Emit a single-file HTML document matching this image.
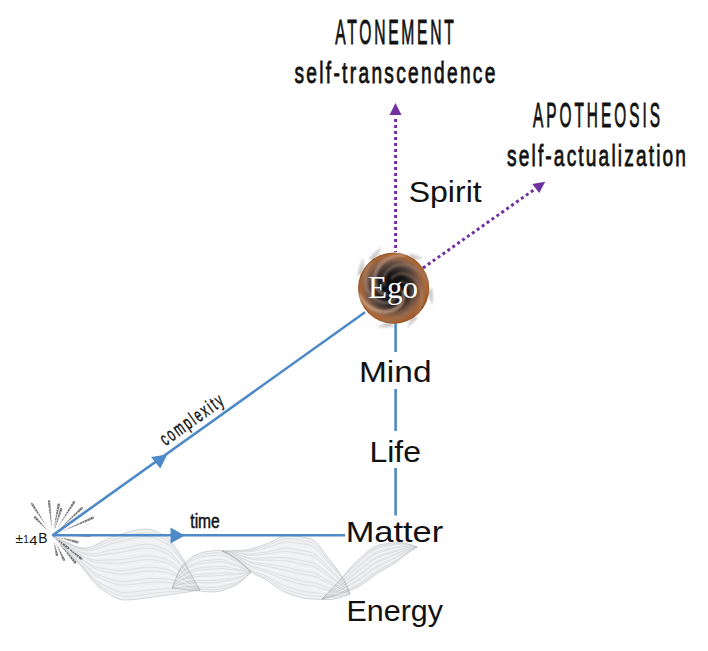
<!DOCTYPE html>
<html><head><meta charset="utf-8"><style>
html,body{margin:0;padding:0;background:#fff;width:708px;height:651px;overflow:hidden}
svg{display:block}
text{font-family:"Liberation Sans", sans-serif}
</style></head><body>
<svg width="708" height="651" viewBox="0 0 708 651">
<defs>
<radialGradient id="ego" cx="50%" cy="50%" r="50%">
<stop offset="0" stop-color="#08080a"/>
<stop offset="0.4" stop-color="#151415"/>
<stop offset="0.62" stop-color="#4a3c36"/>
<stop offset="0.8" stop-color="#86604a"/>
<stop offset="0.93" stop-color="#a86434"/>
<stop offset="1" stop-color="#94542a"/>
</radialGradient>
<radialGradient id="egorim" cx="35%" cy="35%" r="75%">
<stop offset="0.55" stop-color="#d07a38" stop-opacity="0"/>
<stop offset="0.8" stop-color="#d07a38" stop-opacity="0.25"/>
<stop offset="1" stop-color="#6a3818" stop-opacity="0.5"/>
</radialGradient>
<clipPath id="egoclip"><circle cx="393.6" cy="288.1" r="35.6"/></clipPath>
<filter id="blur1" x="-20%" y="-20%" width="140%" height="140%"><feGaussianBlur stdDeviation="1.2"/></filter>
<filter id="blur3" x="-50%" y="-50%" width="200%" height="200%"><feGaussianBlur stdDeviation="2.5"/></filter>
</defs>
<g id="ribbon">
<polygon points="52.0,535.0 53.5,535.9 55.0,536.7 56.5,537.6 58.0,538.4 59.5,539.2 61.0,539.9 62.5,540.6 64.0,541.3 65.5,542.0 67.0,542.6 68.5,543.2 70.0,543.8 71.5,544.4 73.0,545.1 74.5,545.7 76.0,546.3 77.5,546.8 79.0,547.3 80.5,547.6 82.0,547.9 83.5,548.0 85.0,548.0 86.5,547.8 88.0,547.6 89.5,547.2 91.0,546.8 92.5,546.3 94.0,545.7 95.5,545.0 97.0,544.3 98.5,543.6 100.0,542.8 101.5,542.1 103.0,541.3 104.5,540.5 106.0,539.7 107.5,539.0 109.0,538.3 110.5,537.6 112.0,537.0 113.5,536.5 115.0,536.0 116.5,535.6 118.0,535.1 119.5,534.7 121.0,534.2 122.5,533.7 124.0,533.3 125.5,532.8 127.0,532.4 128.5,531.9 130.0,531.5 131.5,531.1 133.0,530.8 134.5,530.4 136.0,530.1 137.5,529.8 139.0,529.6 140.5,529.4 142.0,529.2 143.5,529.1 145.0,529.0 146.5,529.0 148.0,529.1 149.5,529.3 151.0,529.6 152.5,530.1 154.0,530.6 155.5,531.1 157.0,531.8 158.5,532.5 160.0,533.2 161.5,534.0 163.0,534.9 164.5,535.7 166.0,536.6 167.5,537.8 169.0,539.3 170.5,540.9 172.0,542.7 173.5,544.7 175.0,546.7 176.5,548.9 178.0,551.1 179.5,553.3 181.0,555.5 182.5,558.0 184.0,560.7 185.5,563.5 187.0,566.5 188.5,569.4 190.0,572.3 191.5,575.1 193.0,577.8 194.5,580.4 196.0,583.1 197.5,585.7 199.0,588.3 200.0,590.0 200.0,590.0 199.0,590.2 197.5,590.4 196.0,590.7 194.5,590.9 193.0,591.2 191.5,591.4 190.0,591.6 188.5,591.9 187.0,592.1 185.5,592.4 184.0,592.6 182.5,592.8 181.0,593.0 179.5,593.3 178.0,593.5 176.5,593.7 175.0,593.9 173.5,594.2 172.0,594.4 170.5,594.6 169.0,594.8 167.5,595.0 166.0,595.2 164.5,595.4 163.0,595.6 161.5,595.8 160.0,596.0 158.5,596.2 157.0,596.4 155.5,596.6 154.0,596.8 152.5,597.1 151.0,597.3 149.5,597.5 148.0,597.8 146.5,598.0 145.0,598.2 143.5,598.4 142.0,598.6 140.5,598.8 139.0,599.0 137.5,599.2 136.0,599.4 134.5,599.5 133.0,599.7 131.5,599.8 130.0,599.9 128.5,599.9 127.0,600.0 125.5,600.0 124.0,600.0 122.5,599.8 121.0,599.5 119.5,599.2 118.0,598.7 116.5,598.1 115.0,597.4 113.5,596.7 112.0,595.9 110.5,595.0 109.0,594.1 107.5,593.1 106.0,592.1 104.5,591.1 103.0,590.1 101.5,589.0 100.0,588.0 98.5,586.9 97.0,585.5 95.5,584.0 94.0,582.4 92.5,580.7 91.0,578.8 89.5,576.9 88.0,575.0 86.5,573.0 85.0,571.1 83.5,569.2 82.0,567.3 80.5,565.6 79.0,563.9 77.5,562.2 76.0,560.6 74.5,558.9 73.0,557.3 71.5,555.6 70.0,554.0 68.5,552.4 67.0,550.8 65.5,549.2 64.0,547.6 62.5,546.0 61.0,544.4 59.5,542.8 58.0,541.2 56.5,539.7 55.0,538.1 53.5,536.5 52.0,535.0" fill="#e4e6ea" fill-opacity="0.6"/>
<polygon points="172.0,588.0 173.5,584.1 175.0,580.3 176.5,576.6 178.0,573.3 179.5,570.2 181.0,567.6 182.5,565.6 184.0,564.0 185.5,562.5 187.0,561.1 188.5,559.8 190.0,558.6 191.5,557.4 193.0,556.4 194.5,555.5 196.0,554.7 197.5,554.0 199.0,553.4 200.5,552.9 202.0,552.5 203.5,552.2 205.0,551.9 206.5,551.6 208.0,551.4 209.5,551.2 211.0,550.9 212.5,550.8 214.0,550.6 215.5,550.5 217.0,550.4 218.5,550.4 220.0,550.4 221.5,550.7 223.0,551.1 224.5,551.7 226.0,552.4 227.5,553.3 229.0,554.2 230.5,555.1 232.0,556.1 233.5,557.1 235.0,558.0 236.5,559.0 238.0,560.0 239.5,561.2 241.0,562.4 242.5,563.6 244.0,565.0 245.5,566.4 247.0,567.9 248.5,569.4 250.0,570.9 251.0,572.0 251.0,572.0 250.0,573.1 248.5,574.6 247.0,576.1 245.5,577.6 244.0,579.0 242.5,580.3 241.0,581.6 239.5,582.7 238.0,583.8 236.5,584.7 235.0,585.5 233.5,586.2 232.0,586.9 230.5,587.5 229.0,588.1 227.5,588.7 226.0,589.3 224.5,589.8 223.0,590.3 221.5,590.7 220.0,591.1 218.5,591.4 217.0,591.7 215.5,591.9 214.0,592.0 212.5,592.0 211.0,592.0 209.5,591.9 208.0,591.8 206.5,591.7 205.0,591.6 203.5,591.5 202.0,591.3 200.5,591.2 199.0,591.0 197.5,590.8 196.0,590.7 194.5,590.5 193.0,590.3 191.5,590.2 190.0,590.0 188.5,589.9 187.0,589.7 185.5,589.5 184.0,589.4 182.5,589.2 181.0,589.1 179.5,588.9 178.0,588.7 176.5,588.5 175.0,588.4 173.5,588.2 172.0,588.0" fill="#e4e6ea" fill-opacity="0.6"/>
<polygon points="222.0,551.0 223.5,551.0 225.0,551.0 226.5,551.0 228.0,550.9 229.5,550.9 231.0,550.8 232.5,550.8 234.0,550.7 235.5,550.6 237.0,550.5 238.5,550.4 240.0,550.4 241.5,550.3 243.0,550.1 244.5,550.0 246.0,549.9 247.5,549.7 249.0,549.4 250.5,549.1 252.0,548.7 253.5,548.3 255.0,547.8 256.5,547.3 258.0,546.8 259.5,546.3 261.0,545.8 262.5,545.2 264.0,544.7 265.5,544.2 267.0,543.6 268.5,543.0 270.0,542.3 271.5,541.6 273.0,540.8 274.5,540.0 276.0,539.2 277.5,538.4 279.0,537.7 280.5,537.1 282.0,536.5 283.5,536.1 285.0,535.8 286.5,535.6 288.0,535.6 289.5,535.6 291.0,535.7 292.5,535.8 294.0,535.9 295.5,536.0 297.0,536.2 298.5,536.4 300.0,536.6 301.5,536.8 303.0,537.1 304.5,537.3 306.0,537.6 307.5,537.9 309.0,538.3 310.5,538.6 312.0,539.2 313.5,540.2 315.0,541.3 316.5,542.7 318.0,544.3 319.5,546.1 321.0,548.0 322.5,549.9 324.0,552.0 325.5,554.0 327.0,556.1 328.5,558.1 330.0,560.0 331.5,561.9 333.0,563.8 334.5,565.7 336.0,567.7 337.5,569.8 339.0,572.0 340.5,574.2 342.0,576.7 343.5,579.2 345.0,582.0 346.5,585.2 348.0,588.8 349.5,592.7 350.0,594.0 350.0,594.0 349.5,594.2 348.0,594.8 346.5,595.5 345.0,596.1 343.5,596.6 342.0,597.2 340.5,597.7 339.0,598.1 337.5,598.5 336.0,598.8 334.5,599.1 333.0,599.3 331.5,599.5 330.0,599.5 328.5,599.5 327.0,599.5 325.5,599.5 324.0,599.4 322.5,599.4 321.0,599.4 319.5,599.3 318.0,599.3 316.5,599.3 315.0,599.2 313.5,599.1 312.0,599.1 310.5,599.0 309.0,598.9 307.5,598.8 306.0,598.6 304.5,598.4 303.0,598.1 301.5,597.7 300.0,597.3 298.5,596.9 297.0,596.5 295.5,596.0 294.0,595.5 292.5,595.0 291.0,594.5 289.5,593.9 288.0,593.4 286.5,592.8 285.0,592.2 283.5,591.4 282.0,590.6 280.5,589.7 279.0,588.7 277.5,587.7 276.0,586.7 274.5,585.6 273.0,584.6 271.5,583.5 270.0,582.5 268.5,581.5 267.0,580.6 265.5,579.7 264.0,578.9 262.5,578.1 261.0,577.4 259.5,576.7 258.0,576.0 256.5,575.2 255.0,574.4 253.5,573.6 252.0,572.7 250.5,571.6 249.0,570.4 247.5,569.1 246.0,567.6 244.5,566.1 243.0,564.6 241.5,563.2 240.0,562.0 238.5,560.9 237.0,559.8 235.5,558.8 234.0,557.7 232.5,556.7 231.0,555.8 229.5,554.9 228.0,554.0 226.5,553.2 225.0,552.4 223.5,551.7 222.0,551.0" fill="#e4e6ea" fill-opacity="0.6"/>
<polygon points="322.0,599.0 323.5,597.4 325.0,595.9 326.5,594.3 328.0,592.7 329.5,591.1 331.0,589.5 332.5,587.9 334.0,586.3 335.5,584.7 337.0,583.1 338.5,581.5 340.0,579.8 341.5,578.1 343.0,576.3 344.5,574.6 346.0,572.8 347.5,571.1 349.0,569.3 350.5,567.6 352.0,565.9 353.5,564.3 355.0,562.8 356.5,561.4 358.0,560.0 359.5,558.7 361.0,557.3 362.5,556.0 364.0,554.6 365.5,553.3 367.0,552.0 368.5,550.8 370.0,549.6 371.5,548.5 373.0,547.6 374.5,546.7 376.0,546.0 377.5,545.4 379.0,545.0 380.5,544.7 382.0,544.4 383.5,544.1 385.0,543.8 386.5,543.6 388.0,543.4 389.5,543.2 391.0,543.0 392.5,542.8 394.0,542.7 395.5,542.6 397.0,542.5 398.5,542.5 400.0,542.5 401.5,542.6 403.0,542.8 404.5,543.0 406.0,543.3 407.5,543.7 409.0,544.1 410.5,544.5 412.0,545.0 413.5,545.6 415.0,546.2 416.5,546.8 417.0,547.0 417.0,547.0 416.5,547.3 415.0,548.3 413.5,549.2 412.0,550.2 410.5,551.3 409.0,552.3 407.5,553.4 406.0,554.5 404.5,555.6 403.0,556.8 401.5,558.1 400.0,559.3 398.5,560.4 397.0,561.6 395.5,562.7 394.0,563.7 392.5,564.6 391.0,565.6 389.5,566.5 388.0,567.4 386.5,568.2 385.0,569.1 383.5,569.9 382.0,570.8 380.5,571.6 379.0,572.5 377.5,573.4 376.0,574.4 374.5,575.3 373.0,576.4 371.5,577.5 370.0,578.6 368.5,579.8 367.0,580.9 365.5,582.1 364.0,583.2 362.5,584.3 361.0,585.3 359.5,586.2 358.0,587.0 356.5,587.7 355.0,588.4 353.5,589.1 352.0,589.7 350.5,590.3 349.0,590.9 347.5,591.5 346.0,592.0 344.5,592.5 343.0,593.0 341.5,593.5 340.0,594.0 338.5,594.5 337.0,595.0 335.5,595.4 334.0,595.9 332.5,596.3 331.0,596.7 329.5,597.1 328.0,597.5 326.5,597.9 325.0,598.3 323.5,598.7 322.0,599.0" fill="#e4e6ea" fill-opacity="0.6"/>
<polyline points="52.0,535.0 53.5,535.9 55.0,536.8 56.5,537.7 58.0,538.5 59.5,539.4 61.0,540.2 62.5,540.9 64.0,541.7 65.5,542.4 67.0,543.1 68.5,543.7 70.0,544.4 71.5,545.1 73.0,545.7 74.5,546.4 76.0,547.1 77.5,547.7 79.0,548.2 80.5,548.6 82.0,548.9 83.5,549.2 85.0,549.3 86.5,549.2 88.0,549.1 89.5,548.9 91.0,548.6 92.5,548.2 94.0,547.7 95.5,547.2 97.0,546.6 98.5,546.0 100.0,545.4 101.5,544.7 103.0,544.0 104.5,543.3 106.0,542.7 107.5,542.0 109.0,541.4 110.5,540.8 112.0,540.3 113.5,539.8 115.0,539.4 116.5,539.0 118.0,538.6 119.5,538.2 121.0,537.8 122.5,537.4 124.0,537.0 125.5,536.6 127.0,536.1 128.5,535.7 130.0,535.3 131.5,534.9 133.0,534.6 134.5,534.2 136.0,533.9 137.5,533.7 139.0,533.4 140.5,533.2 142.0,533.0 143.5,532.9 145.0,532.9 146.5,532.8 148.0,532.9 149.5,533.1 151.0,533.4 152.5,533.8 154.0,534.2 155.5,534.8 157.0,535.4 158.5,536.0 160.0,536.7 161.5,537.5 163.0,538.2 164.5,539.0 166.0,539.9 167.5,541.0 169.0,542.3 170.5,543.9 172.0,545.6 173.5,547.4 175.0,549.3 176.5,551.4 178.0,553.4 179.5,555.5 181.0,557.6 182.5,560.0 184.0,562.5 185.5,565.1 187.0,567.9 188.5,570.6 190.0,573.4 191.5,576.0 193.0,578.5 194.5,581.0 196.0,583.5 197.5,585.9 199.0,588.4 200.0,590.0" stroke="#8a8f96" stroke-opacity="0.25" stroke-width="0.7" fill="none"/>
<polyline points="52.0,535.0 53.5,536.0 55.0,536.9 56.5,537.8 58.0,538.7 59.5,539.6 61.0,540.4 62.5,541.2 64.0,542.0 65.5,542.8 67.0,543.5 68.5,544.2 70.0,544.9 71.5,545.7 73.0,546.4 74.5,547.2 76.0,547.9 77.5,548.5 79.0,549.1 80.5,549.6 82.0,550.0 83.5,550.3 85.0,550.5 86.5,550.6 88.0,550.6 89.5,550.5 91.0,550.3 92.5,550.1 94.0,549.8 95.5,549.4 97.0,548.9 98.5,548.4 100.0,547.9 101.5,547.3 103.0,546.7 104.5,546.1 106.0,545.6 107.5,545.0 109.0,544.5 110.5,544.0 112.0,543.6 113.5,543.2 115.0,542.8 116.5,542.5 118.0,542.2 119.5,541.8 121.0,541.5 122.5,541.1 124.0,540.7 125.5,540.3 127.0,539.9 128.5,539.5 130.0,539.1 131.5,538.8 133.0,538.4 134.5,538.1 136.0,537.8 137.5,537.5 139.0,537.3 140.5,537.1 142.0,536.9 143.5,536.8 145.0,536.7 146.5,536.7 148.0,536.7 149.5,536.9 151.0,537.2 152.5,537.5 154.0,537.9 155.5,538.4 157.0,539.0 158.5,539.6 160.0,540.2 161.5,540.9 163.0,541.6 164.5,542.3 166.0,543.1 167.5,544.2 169.0,545.4 170.5,546.9 172.0,548.4 173.5,550.2 175.0,552.0 176.5,553.9 178.0,555.8 179.5,557.7 181.0,559.7 182.5,561.9 184.0,564.3 185.5,566.7 187.0,569.3 188.5,571.9 190.0,574.4 191.5,576.9 193.0,579.3 194.5,581.6 196.0,583.9 197.5,586.2 199.0,588.5 200.0,590.0" stroke="#8a8f96" stroke-opacity="0.25" stroke-width="0.7" fill="none"/>
<polyline points="52.0,535.0 53.5,536.0 55.0,537.0 56.5,537.9 58.0,538.9 59.5,539.8 61.0,540.7 62.5,541.5 64.0,542.4 65.5,543.2 67.0,544.0 68.5,544.7 70.0,545.5 71.5,546.3 73.0,547.1 74.5,547.9 76.0,548.7 77.5,549.4 79.0,550.0 80.5,550.6 82.0,551.1 83.5,551.5 85.0,551.8 86.5,552.0 88.0,552.1 89.5,552.2 91.0,552.1 92.5,552.0 94.0,551.8 95.5,551.5 97.0,551.2 98.5,550.8 100.0,550.4 101.5,549.9 103.0,549.4 104.5,548.9 106.0,548.5 107.5,548.0 109.0,547.6 110.5,547.2 112.0,546.8 113.5,546.5 115.0,546.2 116.5,546.0 118.0,545.7 119.5,545.4 121.0,545.1 122.5,544.8 124.0,544.4 125.5,544.0 127.0,543.6 128.5,543.3 130.0,542.9 131.5,542.6 133.0,542.2 134.5,541.9 136.0,541.6 137.5,541.4 139.0,541.1 140.5,540.9 142.0,540.8 143.5,540.6 145.0,540.5 146.5,540.5 148.0,540.5 149.5,540.7 151.0,540.9 152.5,541.2 154.0,541.6 155.5,542.0 157.0,542.5 158.5,543.1 160.0,543.7 161.5,544.3 163.0,545.0 164.5,545.7 166.0,546.4 167.5,547.4 169.0,548.5 170.5,549.8 172.0,551.3 173.5,552.9 175.0,554.6 176.5,556.3 178.0,558.1 179.5,559.9 181.0,561.8 182.5,563.8 184.0,566.0 185.5,568.3 187.0,570.7 188.5,573.1 190.0,575.5 191.5,577.8 193.0,580.0 194.5,582.2 196.0,584.3 197.5,586.5 199.0,588.6 200.0,590.0" stroke="#ffffff" stroke-opacity="0.4" stroke-width="1.0" fill="none"/>
<polyline points="52.0,535.0 53.5,536.0 55.0,537.0 56.5,538.0 58.0,539.0 59.5,540.0 61.0,540.9 62.5,541.8 64.0,542.7 65.5,543.6 67.0,544.4 68.5,545.2 70.0,546.1 71.5,546.9 73.0,547.8 74.5,548.6 76.0,549.4 77.5,550.2 79.0,551.0 80.5,551.6 82.0,552.2 83.5,552.7 85.0,553.1 86.5,553.4 88.0,553.7 89.5,553.8 91.0,553.9 92.5,553.9 94.0,553.8 95.5,553.7 97.0,553.5 98.5,553.2 100.0,552.9 101.5,552.5 103.0,552.1 104.5,551.8 106.0,551.4 107.5,551.0 109.0,550.7 110.5,550.4 112.0,550.1 113.5,549.8 115.0,549.7 116.5,549.5 118.0,549.2 119.5,549.0 121.0,548.7 122.5,548.4 124.0,548.1 125.5,547.8 127.0,547.4 128.5,547.1 130.0,546.7 131.5,546.4 133.0,546.1 134.5,545.8 136.0,545.5 137.5,545.2 139.0,545.0 140.5,544.8 142.0,544.6 143.5,544.5 145.0,544.4 146.5,544.3 148.0,544.4 149.5,544.5 151.0,544.7 152.5,544.9 154.0,545.3 155.5,545.7 157.0,546.1 158.5,546.6 160.0,547.2 161.5,547.8 163.0,548.4 164.5,549.0 166.0,549.7 167.5,550.5 169.0,551.6 170.5,552.8 172.0,554.2 173.5,555.7 175.0,557.2 176.5,558.8 178.0,560.5 179.5,562.2 181.0,563.9 182.5,565.8 184.0,567.8 185.5,569.9 187.0,572.2 188.5,574.4 190.0,576.6 191.5,578.7 193.0,580.8 194.5,582.8 196.0,584.8 197.5,586.7 199.0,588.7 200.0,590.0" stroke="#8a8f96" stroke-opacity="0.25" stroke-width="0.7" fill="none"/>
<polyline points="52.0,535.0 53.5,536.1 55.0,537.1 56.5,538.2 58.0,539.2 59.5,540.2 61.0,541.2 62.5,542.1 64.0,543.1 65.5,544.0 67.0,544.9 68.5,545.7 70.0,546.6 71.5,547.5 73.0,548.5 74.5,549.4 76.0,550.2 77.5,551.1 79.0,551.9 80.5,552.6 82.0,553.3 83.5,553.9 85.0,554.4 86.5,554.8 88.0,555.2 89.5,555.5 91.0,555.7 92.5,555.8 94.0,555.9 95.5,555.9 97.0,555.8 98.5,555.6 100.0,555.4 101.5,555.1 103.0,554.8 104.5,554.6 106.0,554.3 107.5,554.0 109.0,553.8 110.5,553.6 112.0,553.4 113.5,553.2 115.0,553.1 116.5,552.9 118.0,552.8 119.5,552.6 121.0,552.4 122.5,552.1 124.0,551.8 125.5,551.5 127.0,551.2 128.5,550.8 130.0,550.5 131.5,550.2 133.0,549.9 134.5,549.6 136.0,549.3 137.5,549.1 139.0,548.9 140.5,548.7 142.0,548.5 143.5,548.3 145.0,548.2 146.5,548.2 148.0,548.2 149.5,548.3 151.0,548.4 152.5,548.7 154.0,549.0 155.5,549.3 157.0,549.7 158.5,550.2 160.0,550.7 161.5,551.2 163.0,551.7 164.5,552.3 166.0,552.9 167.5,553.7 169.0,554.7 170.5,555.8 172.0,557.1 173.5,558.4 175.0,559.8 176.5,561.3 178.0,562.8 179.5,564.4 181.0,565.9 182.5,567.7 184.0,569.6 185.5,571.5 187.0,573.6 188.5,575.6 190.0,577.7 191.5,579.6 193.0,581.5 194.5,583.3 196.0,585.2 197.5,587.0 199.0,588.8 200.0,590.0" stroke="#8a8f96" stroke-opacity="0.25" stroke-width="0.7" fill="none"/>
<polyline points="52.0,535.0 53.5,536.1 55.0,537.2 56.5,538.3 58.0,539.3 59.5,540.4 61.0,541.4 62.5,542.4 64.0,543.4 65.5,544.4 67.0,545.3 68.5,546.3 70.0,547.2 71.5,548.2 73.0,549.1 74.5,550.1 76.0,551.0 77.5,551.9 79.0,552.8 80.5,553.6 82.0,554.4 83.5,555.0 85.0,555.7 86.5,556.2 88.0,556.7 89.5,557.1 91.0,557.5 92.5,557.7 94.0,557.9 95.5,558.0 97.0,558.1 98.5,558.0 100.0,557.9 101.5,557.7 103.0,557.6 104.5,557.4 106.0,557.2 107.5,557.0 109.0,556.9 110.5,556.7 112.0,556.6 113.5,556.5 115.0,556.5 116.5,556.4 118.0,556.3 119.5,556.2 121.0,556.0 122.5,555.8 124.0,555.5 125.5,555.2 127.0,554.9 128.5,554.6 130.0,554.3 131.5,554.0 133.0,553.7 134.5,553.4 136.0,553.2 137.5,552.9 139.0,552.7 140.5,552.5 142.0,552.3 143.5,552.2 145.0,552.1 146.5,552.0 148.0,552.0 149.5,552.1 151.0,552.2 152.5,552.4 154.0,552.7 155.5,553.0 157.0,553.3 158.5,553.7 160.0,554.2 161.5,554.6 163.0,555.1 164.5,555.6 166.0,556.2 167.5,556.9 169.0,557.8 170.5,558.8 172.0,559.9 173.5,561.2 175.0,562.5 176.5,563.8 178.0,565.2 179.5,566.6 181.0,568.0 182.5,569.6 184.0,571.3 185.5,573.1 187.0,575.0 188.5,576.9 190.0,578.7 191.5,580.5 193.0,582.2 194.5,583.9 196.0,585.6 197.5,587.3 199.0,588.9 200.0,590.0" stroke="#ffffff" stroke-opacity="0.4" stroke-width="1.0" fill="none"/>
<polyline points="52.0,535.0 53.5,536.1 55.0,537.3 56.5,538.4 58.0,539.5 59.5,540.6 61.0,541.7 62.5,542.7 64.0,543.8 65.5,544.8 67.0,545.8 68.5,546.8 70.0,547.8 71.5,548.8 73.0,549.8 74.5,550.8 76.0,551.8 77.5,552.8 79.0,553.7 80.5,554.6 82.0,555.4 83.5,556.2 85.0,557.0 86.5,557.6 88.0,558.2 89.5,558.8 91.0,559.2 92.5,559.6 94.0,560.0 95.5,560.2 97.0,560.4 98.5,560.4 100.0,560.4 101.5,560.3 103.0,560.3 104.5,560.2 106.0,560.1 107.5,560.0 109.0,560.0 110.5,559.9 112.0,559.9 113.5,559.9 115.0,559.9 116.5,559.9 118.0,559.8 119.5,559.7 121.0,559.6 122.5,559.4 124.0,559.2 125.5,558.9 127.0,558.7 128.5,558.4 130.0,558.1 131.5,557.8 133.0,557.5 134.5,557.3 136.0,557.0 137.5,556.8 139.0,556.6 140.5,556.4 142.0,556.2 143.5,556.0 145.0,555.9 146.5,555.8 148.0,555.8 149.5,555.8 151.0,556.0 152.5,556.1 154.0,556.3 155.5,556.6 157.0,556.9 158.5,557.3 160.0,557.6 161.5,558.1 163.0,558.5 164.5,558.9 166.0,559.4 167.5,560.1 169.0,560.9 170.5,561.8 172.0,562.8 173.5,563.9 175.0,565.1 176.5,566.3 178.0,567.6 179.5,568.8 181.0,570.1 182.5,571.6 184.0,573.1 185.5,574.7 187.0,576.4 188.5,578.1 190.0,579.8 191.5,581.4 193.0,583.0 194.5,584.5 196.0,586.0 197.5,587.5 199.0,589.0 200.0,590.0" stroke="#8a8f96" stroke-opacity="0.25" stroke-width="0.7" fill="none"/>
<polyline points="52.0,535.0 53.5,536.2 55.0,537.3 56.5,538.5 58.0,539.6 59.5,540.8 61.0,541.9 62.5,543.0 64.0,544.1 65.5,545.2 67.0,546.2 68.5,547.3 70.0,548.3 71.5,549.4 73.0,550.5 74.5,551.6 76.0,552.6 77.5,553.7 79.0,554.6 80.5,555.6 82.0,556.5 83.5,557.4 85.0,558.2 86.5,559.0 88.0,559.8 89.5,560.4 91.0,561.0 92.5,561.6 94.0,562.0 95.5,562.4 97.0,562.7 98.5,562.8 100.0,562.9 101.5,562.9 103.0,563.0 104.5,563.0 106.0,563.0 107.5,563.1 109.0,563.1 110.5,563.1 112.0,563.2 113.5,563.2 115.0,563.3 116.5,563.4 118.0,563.4 119.5,563.3 121.0,563.2 122.5,563.1 124.0,562.9 125.5,562.7 127.0,562.4 128.5,562.2 130.0,561.9 131.5,561.6 133.0,561.4 134.5,561.1 136.0,560.9 137.5,560.7 139.0,560.4 140.5,560.2 142.0,560.1 143.5,559.9 145.0,559.8 146.5,559.7 148.0,559.6 149.5,559.6 151.0,559.7 152.5,559.8 154.0,560.0 155.5,560.2 157.0,560.5 158.5,560.8 160.0,561.1 161.5,561.5 163.0,561.9 164.5,562.2 166.0,562.7 167.5,563.2 169.0,563.9 170.5,564.8 172.0,565.7 173.5,566.7 175.0,567.7 176.5,568.8 178.0,569.9 179.5,571.0 181.0,572.2 182.5,573.5 184.0,574.9 185.5,576.4 187.0,577.9 188.5,579.4 190.0,580.9 191.5,582.3 193.0,583.7 194.5,585.1 196.0,586.4 197.5,587.8 199.0,589.1 200.0,590.0" stroke="#8a8f96" stroke-opacity="0.25" stroke-width="0.7" fill="none"/>
<polyline points="52.0,535.0 53.5,536.2 55.0,537.4 56.5,538.6 58.0,539.8 59.5,541.0 61.0,542.1 62.5,543.3 64.0,544.4 65.5,545.6 67.0,546.7 68.5,547.8 70.0,548.9 71.5,550.0 73.0,551.2 74.5,552.3 76.0,553.4 77.5,554.5 79.0,555.6 80.5,556.6 82.0,557.6 83.5,558.6 85.0,559.5 86.5,560.4 88.0,561.3 89.5,562.1 91.0,562.8 92.5,563.5 94.0,564.0 95.5,564.5 97.0,564.9 98.5,565.2 100.0,565.4 101.5,565.6 103.0,565.7 104.5,565.8 106.0,565.9 107.5,566.1 109.0,566.2 110.5,566.3 112.0,566.4 113.5,566.6 115.0,566.7 116.5,566.8 118.0,566.9 119.5,566.9 121.0,566.9 122.5,566.8 124.0,566.6 125.5,566.4 127.0,566.2 128.5,565.9 130.0,565.7 131.5,565.4 133.0,565.2 134.5,565.0 136.0,564.7 137.5,564.5 139.0,564.3 140.5,564.1 142.0,563.9 143.5,563.8 145.0,563.6 146.5,563.5 148.0,563.4 149.5,563.4 151.0,563.5 152.5,563.6 154.0,563.7 155.5,563.9 157.0,564.1 158.5,564.3 160.0,564.6 161.5,564.9 163.0,565.2 164.5,565.6 166.0,565.9 167.5,566.4 169.0,567.0 170.5,567.7 172.0,568.5 173.5,569.4 175.0,570.3 176.5,571.3 178.0,572.3 179.5,573.3 181.0,574.3 182.5,575.4 184.0,576.7 185.5,578.0 187.0,579.3 188.5,580.6 190.0,582.0 191.5,583.3 193.0,584.5 194.5,585.7 196.0,586.9 197.5,588.1 199.0,589.2 200.0,590.0" stroke="#ffffff" stroke-opacity="0.4" stroke-width="1.0" fill="none"/>
<polyline points="52.0,535.0 53.5,536.2 55.0,537.5 56.5,538.7 58.0,540.0 59.5,541.2 61.0,542.4 62.5,543.6 64.0,544.8 65.5,546.0 67.0,547.1 68.5,548.3 70.0,549.5 71.5,550.7 73.0,551.9 74.5,553.0 76.0,554.2 77.5,555.4 79.0,556.5 80.5,557.6 82.0,558.7 83.5,559.8 85.0,560.8 86.5,561.8 88.0,562.8 89.5,563.7 91.0,564.6 92.5,565.4 94.0,566.1 95.5,566.7 97.0,567.2 98.5,567.6 100.0,567.9 101.5,568.2 103.0,568.4 104.5,568.6 106.0,568.8 107.5,569.1 109.0,569.3 110.5,569.5 112.0,569.7 113.5,569.9 115.0,570.1 116.5,570.3 118.0,570.4 119.5,570.5 121.0,570.5 122.5,570.5 124.0,570.3 125.5,570.1 127.0,569.9 128.5,569.7 130.0,569.5 131.5,569.3 133.0,569.0 134.5,568.8 136.0,568.6 137.5,568.4 139.0,568.2 140.5,568.0 142.0,567.8 143.5,567.6 145.0,567.5 146.5,567.3 148.0,567.2 149.5,567.2 151.0,567.2 152.5,567.3 154.0,567.4 155.5,567.5 157.0,567.7 158.5,567.9 160.0,568.1 161.5,568.4 163.0,568.6 164.5,568.9 166.0,569.2 167.5,569.6 169.0,570.1 170.5,570.7 172.0,571.4 173.5,572.2 175.0,573.0 176.5,573.8 178.0,574.6 179.5,575.5 181.0,576.4 182.5,577.4 184.0,578.4 185.5,579.6 187.0,580.7 188.5,581.9 190.0,583.0 191.5,584.2 193.0,585.2 194.5,586.3 196.0,587.3 197.5,588.3 199.0,589.3 200.0,590.0" stroke="#8a8f96" stroke-opacity="0.25" stroke-width="0.7" fill="none"/>
<polyline points="52.0,535.0 53.5,536.3 55.0,537.6 56.5,538.8 58.0,540.1 59.5,541.4 61.0,542.6 62.5,543.9 64.0,545.1 65.5,546.4 67.0,547.6 68.5,548.8 70.0,550.0 71.5,551.3 73.0,552.5 74.5,553.8 76.0,555.0 77.5,556.2 79.0,557.4 80.5,558.6 82.0,559.8 83.5,560.9 85.0,562.1 86.5,563.2 88.0,564.3 89.5,565.4 91.0,566.4 92.5,567.3 94.0,568.1 95.5,568.9 97.0,569.5 98.5,570.0 100.0,570.4 101.5,570.8 103.0,571.1 104.5,571.4 106.0,571.8 107.5,572.1 109.0,572.4 110.5,572.7 112.0,573.0 113.5,573.3 115.0,573.5 116.5,573.8 118.0,574.0 119.5,574.1 121.0,574.1 122.5,574.1 124.0,574.0 125.5,573.9 127.0,573.7 128.5,573.5 130.0,573.3 131.5,573.1 133.0,572.9 134.5,572.6 136.0,572.4 137.5,572.2 139.0,572.0 140.5,571.8 142.0,571.6 143.5,571.5 145.0,571.3 146.5,571.2 148.0,571.1 149.5,571.0 151.0,571.0 152.5,571.0 154.0,571.1 155.5,571.2 157.0,571.3 158.5,571.4 160.0,571.6 161.5,571.8 163.0,572.0 164.5,572.2 166.0,572.4 167.5,572.8 169.0,573.2 170.5,573.7 172.0,574.3 173.5,574.9 175.0,575.6 176.5,576.3 178.0,577.0 179.5,577.7 181.0,578.5 182.5,579.3 184.0,580.2 185.5,581.2 187.0,582.1 188.5,583.1 190.0,584.1 191.5,585.1 193.0,586.0 194.5,586.8 196.0,587.7 197.5,588.6 199.0,589.4 200.0,590.0" stroke="#8a8f96" stroke-opacity="0.25" stroke-width="0.7" fill="none"/>
<polyline points="52.0,535.0 53.5,536.3 55.0,537.6 56.5,539.0 58.0,540.3 59.5,541.6 61.0,542.9 62.5,544.2 64.0,545.5 65.5,546.8 67.0,548.1 68.5,549.3 70.0,550.6 71.5,551.9 73.0,553.2 74.5,554.5 76.0,555.8 77.5,557.1 79.0,558.3 80.5,559.6 82.0,560.8 83.5,562.1 85.0,563.4 86.5,564.6 88.0,565.8 89.5,567.0 91.0,568.1 92.5,569.2 94.0,570.2 95.5,571.0 97.0,571.8 98.5,572.4 100.0,572.9 101.5,573.4 103.0,573.8 104.5,574.2 106.0,574.7 107.5,575.1 109.0,575.5 110.5,575.9 112.0,576.3 113.5,576.6 115.0,577.0 116.5,577.3 118.0,577.5 119.5,577.7 121.0,577.8 122.5,577.8 124.0,577.7 125.5,577.6 127.0,577.4 128.5,577.3 130.0,577.1 131.5,576.9 133.0,576.7 134.5,576.5 136.0,576.3 137.5,576.1 139.0,575.9 140.5,575.7 142.0,575.5 143.5,575.3 145.0,575.1 146.5,575.0 148.0,574.9 149.5,574.8 151.0,574.7 152.5,574.7 154.0,574.7 155.5,574.8 157.0,574.9 158.5,575.0 160.0,575.1 161.5,575.2 163.0,575.4 164.5,575.5 166.0,575.7 167.5,575.9 169.0,576.3 170.5,576.7 172.0,577.1 173.5,577.7 175.0,578.2 176.5,578.8 178.0,579.4 179.5,579.9 181.0,580.5 182.5,581.2 184.0,582.0 185.5,582.8 187.0,583.6 188.5,584.4 190.0,585.2 191.5,586.0 193.0,586.7 194.5,587.4 196.0,588.1 197.5,588.8 199.0,589.5 200.0,590.0" stroke="#ffffff" stroke-opacity="0.4" stroke-width="1.0" fill="none"/>
<polyline points="52.0,535.0 53.5,536.4 55.0,537.7 56.5,539.1 58.0,540.4 59.5,541.8 61.0,543.1 62.5,544.5 64.0,545.8 65.5,547.2 67.0,548.5 68.5,549.8 70.0,551.2 71.5,552.5 73.0,553.9 74.5,555.2 76.0,556.6 77.5,557.9 79.0,559.3 80.5,560.6 82.0,561.9 83.5,563.3 85.0,564.7 86.5,566.0 88.0,567.4 89.5,568.7 91.0,569.9 92.5,571.1 94.0,572.2 95.5,573.2 97.0,574.1 98.5,574.8 100.0,575.5 101.5,576.0 103.0,576.5 104.5,577.1 106.0,577.6 107.5,578.1 109.0,578.6 110.5,579.1 112.0,579.5 113.5,580.0 115.0,580.4 116.5,580.7 118.0,581.0 119.5,581.2 121.0,581.4 122.5,581.5 124.0,581.4 125.5,581.3 127.0,581.2 128.5,581.0 130.0,580.9 131.5,580.7 133.0,580.5 134.5,580.3 136.0,580.1 137.5,579.9 139.0,579.7 140.5,579.5 142.0,579.3 143.5,579.2 145.0,579.0 146.5,578.8 148.0,578.7 149.5,578.6 151.0,578.5 152.5,578.5 154.0,578.4 155.5,578.4 157.0,578.5 158.5,578.5 160.0,578.6 161.5,578.6 163.0,578.7 164.5,578.8 166.0,578.9 167.5,579.1 169.0,579.4 170.5,579.7 172.0,580.0 173.5,580.4 175.0,580.8 176.5,581.3 178.0,581.7 179.5,582.2 181.0,582.6 182.5,583.2 184.0,583.7 185.5,584.4 187.0,585.0 188.5,585.6 190.0,586.3 191.5,586.9 193.0,587.4 194.5,588.0 196.0,588.6 197.5,589.1 199.0,589.6 200.0,590.0" stroke="#8a8f96" stroke-opacity="0.25" stroke-width="0.7" fill="none"/>
<polyline points="52.0,535.0 53.5,536.4 55.0,537.8 56.5,539.2 58.0,540.6 59.5,542.0 61.0,543.4 62.5,544.8 64.0,546.2 65.5,547.6 67.0,549.0 68.5,550.3 70.0,551.7 71.5,553.2 73.0,554.6 74.5,556.0 76.0,557.4 77.5,558.8 79.0,560.2 80.5,561.6 82.0,563.0 83.5,564.5 85.0,565.9 86.5,567.4 88.0,568.9 89.5,570.3 91.0,571.7 92.5,573.0 94.0,574.2 95.5,575.4 97.0,576.4 98.5,577.3 100.0,578.0 101.5,578.6 103.0,579.2 104.5,579.9 106.0,580.5 107.5,581.1 109.0,581.7 110.5,582.3 112.0,582.8 113.5,583.3 115.0,583.8 116.5,584.2 118.0,584.6 119.5,584.8 121.0,585.0 122.5,585.1 124.0,585.2 125.5,585.1 127.0,585.0 128.5,584.8 130.0,584.7 131.5,584.5 133.0,584.3 134.5,584.2 136.0,584.0 137.5,583.8 139.0,583.6 140.5,583.4 142.0,583.2 143.5,583.0 145.0,582.8 146.5,582.7 148.0,582.5 149.5,582.4 151.0,582.3 152.5,582.2 154.0,582.1 155.5,582.1 157.0,582.0 158.5,582.0 160.0,582.1 161.5,582.1 163.0,582.1 164.5,582.1 166.0,582.2 167.5,582.3 169.0,582.4 170.5,582.6 172.0,582.9 173.5,583.2 175.0,583.4 176.5,583.8 178.0,584.1 179.5,584.4 181.0,584.7 182.5,585.1 184.0,585.5 185.5,586.0 187.0,586.4 188.5,586.9 190.0,587.3 191.5,587.8 193.0,588.2 194.5,588.6 196.0,589.0 197.5,589.4 199.0,589.7 200.0,590.0" stroke="#8a8f96" stroke-opacity="0.25" stroke-width="0.7" fill="none"/>
<polyline points="52.0,535.0 53.5,536.4 55.0,537.9 56.5,539.3 58.0,540.7 59.5,542.2 61.0,543.6 62.5,545.1 64.0,546.5 65.5,548.0 67.0,549.4 68.5,550.9 70.0,552.3 71.5,553.8 73.0,555.2 74.5,556.7 76.0,558.2 77.5,559.7 79.0,561.1 80.5,562.6 82.0,564.1 83.5,565.6 85.0,567.2 86.5,568.8 88.0,570.4 89.5,572.0 91.0,573.5 92.5,574.9 94.0,576.3 95.5,577.5 97.0,578.7 98.5,579.7 100.0,580.5 101.5,581.2 103.0,581.9 104.5,582.7 106.0,583.4 107.5,584.1 109.0,584.8 110.5,585.4 112.0,586.1 113.5,586.6 115.0,587.2 116.5,587.7 118.0,588.1 119.5,588.4 121.0,588.7 122.5,588.8 124.0,588.9 125.5,588.8 127.0,588.7 128.5,588.6 130.0,588.5 131.5,588.3 133.0,588.2 134.5,588.0 136.0,587.8 137.5,587.6 139.0,587.4 140.5,587.3 142.0,587.1 143.5,586.9 145.0,586.7 146.5,586.5 148.0,586.3 149.5,586.2 151.0,586.0 152.5,585.9 154.0,585.8 155.5,585.7 157.0,585.6 158.5,585.6 160.0,585.5 161.5,585.5 163.0,585.5 164.5,585.5 166.0,585.4 167.5,585.5 169.0,585.5 170.5,585.6 172.0,585.8 173.5,585.9 175.0,586.1 176.5,586.2 178.0,586.4 179.5,586.6 181.0,586.8 182.5,587.0 184.0,587.3 185.5,587.6 187.0,587.8 188.5,588.1 190.0,588.4 191.5,588.7 193.0,588.9 194.5,589.2 196.0,589.4 197.5,589.6 199.0,589.9 200.0,590.0" stroke="#ffffff" stroke-opacity="0.4" stroke-width="1.0" fill="none"/>
<polyline points="52.0,535.0 53.5,536.5 55.0,537.9 56.5,539.4 58.0,540.9 59.5,542.4 61.0,543.9 62.5,545.4 64.0,546.9 65.5,548.4 67.0,549.9 68.5,551.4 70.0,552.9 71.5,554.4 73.0,555.9 74.5,557.5 76.0,559.0 77.5,560.5 79.0,562.0 80.5,563.6 82.0,565.2 83.5,566.8 85.0,568.5 86.5,570.2 88.0,571.9 89.5,573.6 91.0,575.3 92.5,576.8 94.0,578.3 95.5,579.7 97.0,581.0 98.5,582.1 100.0,583.0 101.5,583.8 103.0,584.7 104.5,585.5 106.0,586.3 107.5,587.1 109.0,587.9 110.5,588.6 112.0,589.3 113.5,590.0 115.0,590.6 116.5,591.1 118.0,591.6 119.5,592.0 121.0,592.3 122.5,592.5 124.0,592.6 125.5,592.5 127.0,592.5 128.5,592.4 130.0,592.3 131.5,592.1 133.0,592.0 134.5,591.8 136.0,591.7 137.5,591.5 139.0,591.3 140.5,591.1 142.0,590.9 143.5,590.7 145.0,590.5 146.5,590.3 148.0,590.1 149.5,590.0 151.0,589.8 152.5,589.6 154.0,589.5 155.5,589.3 157.0,589.2 158.5,589.1 160.0,589.0 161.5,588.9 163.0,588.9 164.5,588.8 166.0,588.7 167.5,588.6 169.0,588.6 170.5,588.6 172.0,588.6 173.5,588.7 175.0,588.7 176.5,588.7 178.0,588.8 179.5,588.8 181.0,588.9 182.5,589.0 184.0,589.0 185.5,589.2 187.0,589.3 188.5,589.4 190.0,589.5 191.5,589.6 193.0,589.7 194.5,589.8 196.0,589.8 197.5,589.9 199.0,590.0 200.0,590.0" stroke="#8a8f96" stroke-opacity="0.25" stroke-width="0.7" fill="none"/>
<polyline points="52.0,535.0 53.5,536.5 55.0,538.0 56.5,539.5 58.0,541.1 59.5,542.6 61.0,544.1 62.5,545.7 64.0,547.2 65.5,548.8 67.0,550.3 68.5,551.9 70.0,553.4 71.5,555.0 73.0,556.6 74.5,558.2 76.0,559.8 77.5,561.4 79.0,563.0 80.5,564.6 82.0,566.2 83.5,568.0 85.0,569.8 86.5,571.6 88.0,573.5 89.5,575.3 91.0,577.0 92.5,578.8 94.0,580.4 95.5,581.9 97.0,583.2 98.5,584.5 100.0,585.5 101.5,586.4 103.0,587.4 104.5,588.3 106.0,589.2 107.5,590.1 109.0,591.0 110.5,591.8 112.0,592.6 113.5,593.3 115.0,594.0 116.5,594.6 118.0,595.1 119.5,595.6 121.0,595.9 122.5,596.1 124.0,596.3 125.5,596.3 127.0,596.2 128.5,596.2 130.0,596.1 131.5,596.0 133.0,595.8 134.5,595.7 136.0,595.5 137.5,595.3 139.0,595.2 140.5,595.0 142.0,594.8 143.5,594.6 145.0,594.4 146.5,594.2 148.0,593.9 149.5,593.7 151.0,593.5 152.5,593.3 154.0,593.2 155.5,593.0 157.0,592.8 158.5,592.7 160.0,592.5 161.5,592.4 163.0,592.2 164.5,592.1 166.0,592.0 167.5,591.8 169.0,591.7 170.5,591.6 172.0,591.5 173.5,591.4 175.0,591.3 176.5,591.2 178.0,591.1 179.5,591.1 181.0,591.0 182.5,590.9 184.0,590.8 185.5,590.8 187.0,590.7 188.5,590.6 190.0,590.6 191.5,590.5 193.0,590.4 194.5,590.3 196.0,590.2 197.5,590.2 199.0,590.1 200.0,590.0" stroke="#8a8f96" stroke-opacity="0.25" stroke-width="0.7" fill="none"/>
<polyline points="172.0,588.0 173.5,584.3 175.0,580.7 176.5,577.3 178.0,574.1 179.5,571.3 181.0,568.8 182.5,566.9 184.0,565.4 185.5,564.0 187.0,562.7 188.5,561.5 190.0,560.3 191.5,559.3 193.0,558.3 194.5,557.4 196.0,556.7 197.5,556.0 199.0,555.4 200.5,555.0 202.0,554.7 203.5,554.4 205.0,554.1 206.5,553.9 208.0,553.6 209.5,553.4 211.0,553.2 212.5,553.1 214.0,552.9 215.5,552.8 217.0,552.7 218.5,552.7 220.0,552.7 221.5,552.9 223.0,553.3 224.5,553.8 226.0,554.5 227.5,555.2 229.0,556.0 230.5,556.9 232.0,557.8 233.5,558.7 235.0,559.5 236.5,560.4 238.0,561.3 239.5,562.4 241.0,563.4 242.5,564.6 244.0,565.8 245.5,567.0 247.0,568.3 248.5,569.7 250.0,571.1 251.0,572.0" stroke="#8a8f96" stroke-opacity="0.25" stroke-width="0.7" fill="none"/>
<polyline points="172.0,588.0 173.5,584.5 175.0,581.2 176.5,578.0 178.0,575.0 179.5,572.3 181.0,570.0 182.5,568.2 184.0,566.8 185.5,565.5 187.0,564.3 188.5,563.1 190.0,562.1 191.5,561.1 193.0,560.2 194.5,559.4 196.0,558.7 197.5,558.1 199.0,557.5 200.5,557.1 202.0,556.8 203.5,556.6 205.0,556.3 206.5,556.1 208.0,555.9 209.5,555.7 211.0,555.5 212.5,555.4 214.0,555.2 215.5,555.1 217.0,555.0 218.5,555.0 220.0,555.0 221.5,555.1 223.0,555.5 224.5,555.9 226.0,556.5 227.5,557.2 229.0,557.9 230.5,558.7 232.0,559.5 233.5,560.3 235.0,561.1 236.5,561.8 238.0,562.7 239.5,563.6 241.0,564.5 242.5,565.5 244.0,566.5 245.5,567.6 247.0,568.8 248.5,570.0 250.0,571.2 251.0,572.0" stroke="#8a8f96" stroke-opacity="0.25" stroke-width="0.7" fill="none"/>
<polyline points="172.0,588.0 173.5,584.8 175.0,581.6 176.5,578.6 178.0,575.8 179.5,573.3 181.0,571.2 182.5,569.5 184.0,568.2 185.5,567.0 187.0,565.9 188.5,564.8 190.0,563.8 191.5,562.9 193.0,562.1 194.5,561.3 196.0,560.7 197.5,560.1 199.0,559.6 200.5,559.3 202.0,559.0 203.5,558.7 205.0,558.5 206.5,558.3 208.0,558.1 209.5,557.9 211.0,557.8 212.5,557.6 214.0,557.5 215.5,557.4 217.0,557.3 218.5,557.2 220.0,557.2 221.5,557.4 223.0,557.7 224.5,558.1 226.0,558.6 227.5,559.2 229.0,559.8 230.5,560.5 232.0,561.2 233.5,561.9 235.0,562.6 236.5,563.3 238.0,564.0 239.5,564.8 241.0,565.6 242.5,566.4 244.0,567.3 245.5,568.3 247.0,569.2 248.5,570.2 250.0,571.3 251.0,572.0" stroke="#ffffff" stroke-opacity="0.4" stroke-width="1.0" fill="none"/>
<polyline points="172.0,588.0 173.5,585.0 175.0,582.1 176.5,579.3 178.0,576.7 179.5,574.4 181.0,572.4 182.5,570.8 184.0,569.6 185.5,568.5 187.0,567.4 188.5,566.5 190.0,565.5 191.5,564.7 193.0,563.9 194.5,563.3 196.0,562.7 197.5,562.2 199.0,561.7 200.5,561.4 202.0,561.1 203.5,560.9 205.0,560.7 206.5,560.5 208.0,560.4 209.5,560.2 211.0,560.1 212.5,559.9 214.0,559.8 215.5,559.7 217.0,559.6 218.5,559.5 220.0,559.5 221.5,559.6 223.0,559.8 224.5,560.2 226.0,560.6 227.5,561.1 229.0,561.7 230.5,562.3 232.0,562.9 233.5,563.5 235.0,564.1 236.5,564.7 238.0,565.3 239.5,566.0 241.0,566.6 242.5,567.4 244.0,568.1 245.5,568.9 247.0,569.7 248.5,570.5 250.0,571.4 251.0,572.0" stroke="#8a8f96" stroke-opacity="0.25" stroke-width="0.7" fill="none"/>
<polyline points="172.0,588.0 173.5,585.2 175.0,582.5 176.5,579.9 178.0,577.5 179.5,575.4 181.0,573.6 182.5,572.1 184.0,571.0 185.5,570.0 187.0,569.0 188.5,568.1 190.0,567.3 191.5,566.5 193.0,565.8 194.5,565.2 196.0,564.7 197.5,564.2 199.0,563.8 200.5,563.5 202.0,563.3 203.5,563.1 205.0,562.9 206.5,562.8 208.0,562.6 209.5,562.5 211.0,562.3 212.5,562.2 214.0,562.1 215.5,562.0 217.0,561.9 218.5,561.8 220.0,561.7 221.5,561.8 223.0,562.0 224.5,562.3 226.0,562.7 227.5,563.1 229.0,563.6 230.5,564.1 232.0,564.6 233.5,565.2 235.0,565.6 236.5,566.1 238.0,566.6 239.5,567.2 241.0,567.7 242.5,568.3 244.0,568.9 245.5,569.5 247.0,570.2 248.5,570.8 250.0,571.5 251.0,572.0" stroke="#8a8f96" stroke-opacity="0.25" stroke-width="0.7" fill="none"/>
<polyline points="172.0,588.0 173.5,585.5 175.0,583.0 176.5,580.6 178.0,578.4 179.5,576.4 181.0,574.8 182.5,573.4 184.0,572.4 185.5,571.5 187.0,570.6 188.5,569.8 190.0,569.0 191.5,568.3 193.0,567.7 194.5,567.2 196.0,566.7 197.5,566.2 199.0,565.9 200.5,565.6 202.0,565.4 203.5,565.3 205.0,565.1 206.5,565.0 208.0,564.9 209.5,564.7 211.0,564.6 212.5,564.5 214.0,564.4 215.5,564.3 217.0,564.2 218.5,564.1 220.0,564.0 221.5,564.0 223.0,564.2 224.5,564.4 226.0,564.7 227.5,565.1 229.0,565.5 230.5,565.9 232.0,566.3 233.5,566.8 235.0,567.2 236.5,567.6 238.0,567.9 239.5,568.4 241.0,568.8 242.5,569.2 244.0,569.7 245.5,570.1 247.0,570.6 248.5,571.1 250.0,571.6 251.0,572.0" stroke="#ffffff" stroke-opacity="0.4" stroke-width="1.0" fill="none"/>
<polyline points="172.0,588.0 173.5,585.7 175.0,583.4 176.5,581.3 178.0,579.3 179.5,577.5 181.0,576.0 182.5,574.8 184.0,573.9 185.5,573.0 187.0,572.2 188.5,571.5 190.0,570.8 191.5,570.2 193.0,569.6 194.5,569.1 196.0,568.7 197.5,568.3 199.0,568.0 200.5,567.8 202.0,567.6 203.5,567.5 205.0,567.4 206.5,567.2 208.0,567.1 209.5,567.0 211.0,566.9 212.5,566.8 214.0,566.7 215.5,566.6 217.0,566.5 218.5,566.4 220.0,566.3 221.5,566.3 223.0,566.4 224.5,566.5 226.0,566.8 227.5,567.0 229.0,567.4 230.5,567.7 232.0,568.0 233.5,568.4 235.0,568.7 236.5,569.0 238.0,569.3 239.5,569.6 241.0,569.8 242.5,570.1 244.0,570.4 245.5,570.8 247.0,571.1 248.5,571.4 250.0,571.8 251.0,572.0" stroke="#8a8f96" stroke-opacity="0.25" stroke-width="0.7" fill="none"/>
<polyline points="172.0,588.0 173.5,585.9 175.0,583.9 176.5,581.9 178.0,580.1 179.5,578.5 181.0,577.2 182.5,576.1 184.0,575.3 185.5,574.5 187.0,573.8 188.5,573.1 190.0,572.5 191.5,572.0 193.0,571.5 194.5,571.0 196.0,570.7 197.5,570.3 199.0,570.1 200.5,569.9 202.0,569.8 203.5,569.7 205.0,569.6 206.5,569.5 208.0,569.4 209.5,569.3 211.0,569.2 212.5,569.1 214.0,569.0 215.5,568.9 217.0,568.8 218.5,568.6 220.0,568.5 221.5,568.5 223.0,568.5 224.5,568.6 226.0,568.8 227.5,569.0 229.0,569.2 230.5,569.5 232.0,569.8 233.5,570.0 235.0,570.2 236.5,570.4 238.0,570.6 239.5,570.8 241.0,570.9 242.5,571.1 244.0,571.2 245.5,571.4 247.0,571.5 248.5,571.7 250.0,571.9 251.0,572.0" stroke="#8a8f96" stroke-opacity="0.25" stroke-width="0.7" fill="none"/>
<polyline points="172.0,588.0 173.5,586.1 175.0,584.3 176.5,582.6 178.0,581.0 179.5,579.6 181.0,578.3 182.5,577.4 184.0,576.7 185.5,576.0 187.0,575.4 188.5,574.8 190.0,574.3 191.5,573.8 193.0,573.4 194.5,573.0 196.0,572.7 197.5,572.4 199.0,572.2 200.5,572.0 202.0,571.9 203.5,571.8 205.0,571.8 206.5,571.7 208.0,571.6 209.5,571.5 211.0,571.5 212.5,571.4 214.0,571.3 215.5,571.2 217.0,571.1 218.5,570.9 220.0,570.8 221.5,570.7 223.0,570.7 224.5,570.8 226.0,570.9 227.5,571.0 229.0,571.1 230.5,571.3 232.0,571.5 233.5,571.6 235.0,571.8 236.5,571.8 238.0,571.9 239.5,571.9 241.0,572.0 242.5,572.0 244.0,572.0 245.5,572.0 247.0,572.0 248.5,572.0 250.0,572.0 251.0,572.0" stroke="#ffffff" stroke-opacity="0.4" stroke-width="1.0" fill="none"/>
<polyline points="172.0,588.0 173.5,586.4 175.0,584.8 176.5,583.2 178.0,581.8 179.5,580.6 181.0,579.5 182.5,578.7 184.0,578.1 185.5,577.5 187.0,577.0 188.5,576.5 190.0,576.0 191.5,575.6 193.0,575.2 194.5,574.9 196.0,574.7 197.5,574.4 199.0,574.3 200.5,574.1 202.0,574.1 203.5,574.0 205.0,574.0 206.5,573.9 208.0,573.9 209.5,573.8 211.0,573.7 212.5,573.7 214.0,573.6 215.5,573.5 217.0,573.4 218.5,573.2 220.0,573.0 221.5,572.9 223.0,572.9 224.5,572.9 226.0,572.9 227.5,572.9 229.0,573.0 230.5,573.1 232.0,573.2 233.5,573.3 235.0,573.3 236.5,573.3 238.0,573.2 239.5,573.1 241.0,573.0 242.5,572.9 244.0,572.8 245.5,572.6 247.0,572.5 248.5,572.3 250.0,572.1 251.0,572.0" stroke="#8a8f96" stroke-opacity="0.25" stroke-width="0.7" fill="none"/>
<polyline points="172.0,588.0 173.5,586.6 175.0,585.2 176.5,583.9 178.0,582.7 179.5,581.6 181.0,580.7 182.5,580.0 184.0,579.5 185.5,579.0 187.0,578.6 188.5,578.2 190.0,577.8 191.5,577.4 193.0,577.1 194.5,576.9 196.0,576.7 197.5,576.5 199.0,576.4 200.5,576.3 202.0,576.2 203.5,576.2 205.0,576.2 206.5,576.1 208.0,576.1 209.5,576.1 211.0,576.0 212.5,576.0 214.0,575.9 215.5,575.8 217.0,575.7 218.5,575.5 220.0,575.3 221.5,575.2 223.0,575.1 224.5,575.0 226.0,574.9 227.5,574.9 229.0,574.9 230.5,574.9 232.0,574.9 233.5,574.9 235.0,574.8 236.5,574.7 238.0,574.5 239.5,574.3 241.0,574.1 242.5,573.8 244.0,573.6 245.5,573.2 247.0,572.9 248.5,572.6 250.0,572.2 251.0,572.0" stroke="#8a8f96" stroke-opacity="0.25" stroke-width="0.7" fill="none"/>
<polyline points="172.0,588.0 173.5,586.8 175.0,585.7 176.5,584.6 178.0,583.6 179.5,582.7 181.0,581.9 182.5,581.3 184.0,580.9 185.5,580.5 187.0,580.2 188.5,579.8 190.0,579.5 191.5,579.2 193.0,579.0 194.5,578.8 196.0,578.7 197.5,578.5 199.0,578.5 200.5,578.4 202.0,578.4 203.5,578.4 205.0,578.4 206.5,578.4 208.0,578.4 209.5,578.3 211.0,578.3 212.5,578.3 214.0,578.2 215.5,578.1 217.0,577.9 218.5,577.8 220.0,577.6 221.5,577.4 223.0,577.2 224.5,577.1 226.0,577.0 227.5,576.9 229.0,576.8 230.5,576.7 232.0,576.6 233.5,576.5 235.0,576.4 236.5,576.1 238.0,575.9 239.5,575.5 241.0,575.2 242.5,574.8 244.0,574.3 245.5,573.9 247.0,573.4 248.5,572.9 250.0,572.4 251.0,572.0" stroke="#ffffff" stroke-opacity="0.4" stroke-width="1.0" fill="none"/>
<polyline points="172.0,588.0 173.5,587.0 175.0,586.1 176.5,585.2 178.0,584.4 179.5,583.7 181.0,583.1 182.5,582.6 184.0,582.3 185.5,582.0 187.0,581.8 188.5,581.5 190.0,581.3 191.5,581.1 193.0,580.9 194.5,580.8 196.0,580.7 197.5,580.6 199.0,580.5 200.5,580.5 202.0,580.5 203.5,580.6 205.0,580.6 206.5,580.6 208.0,580.6 209.5,580.6 211.0,580.6 212.5,580.5 214.0,580.5 215.5,580.4 217.0,580.2 218.5,580.0 220.0,579.8 221.5,579.6 223.0,579.4 224.5,579.2 226.0,579.0 227.5,578.9 229.0,578.7 230.5,578.5 232.0,578.3 233.5,578.1 235.0,577.9 236.5,577.6 238.0,577.2 239.5,576.7 241.0,576.3 242.5,575.7 244.0,575.1 245.5,574.5 247.0,573.8 248.5,573.2 250.0,572.5 251.0,572.0" stroke="#8a8f96" stroke-opacity="0.25" stroke-width="0.7" fill="none"/>
<polyline points="172.0,588.0 173.5,587.3 175.0,586.6 176.5,585.9 178.0,585.3 179.5,584.7 181.0,584.3 182.5,584.0 184.0,583.7 185.5,583.5 187.0,583.3 188.5,583.2 190.0,583.0 191.5,582.9 193.0,582.8 194.5,582.7 196.0,582.7 197.5,582.6 199.0,582.6 200.5,582.7 202.0,582.7 203.5,582.8 205.0,582.8 206.5,582.8 208.0,582.9 209.5,582.9 211.0,582.9 212.5,582.8 214.0,582.8 215.5,582.7 217.0,582.5 218.5,582.3 220.0,582.1 221.5,581.8 223.0,581.6 224.5,581.3 226.0,581.1 227.5,580.8 229.0,580.6 230.5,580.3 232.0,580.0 233.5,579.7 235.0,579.4 236.5,579.0 238.0,578.5 239.5,577.9 241.0,577.3 242.5,576.6 244.0,575.9 245.5,575.1 247.0,574.3 248.5,573.5 250.0,572.6 251.0,572.0" stroke="#8a8f96" stroke-opacity="0.25" stroke-width="0.7" fill="none"/>
<polyline points="172.0,588.0 173.5,587.5 175.0,587.0 176.5,586.6 178.0,586.1 179.5,585.8 181.0,585.5 182.5,585.3 184.0,585.1 185.5,585.0 187.0,584.9 188.5,584.8 190.0,584.8 191.5,584.7 193.0,584.7 194.5,584.7 196.0,584.7 197.5,584.7 199.0,584.7 200.5,584.8 202.0,584.9 203.5,584.9 205.0,585.0 206.5,585.1 208.0,585.1 209.5,585.1 211.0,585.1 212.5,585.1 214.0,585.1 215.5,585.0 217.0,584.8 218.5,584.6 220.0,584.3 221.5,584.1 223.0,583.8 224.5,583.5 226.0,583.1 227.5,582.8 229.0,582.5 230.5,582.1 232.0,581.7 233.5,581.4 235.0,580.9 236.5,580.4 238.0,579.8 239.5,579.1 241.0,578.4 242.5,577.6 244.0,576.7 245.5,575.7 247.0,574.8 248.5,573.7 250.0,572.7 251.0,572.0" stroke="#ffffff" stroke-opacity="0.4" stroke-width="1.0" fill="none"/>
<polyline points="172.0,588.0 173.5,587.7 175.0,587.5 176.5,587.2 178.0,587.0 179.5,586.8 181.0,586.7 182.5,586.6 184.0,586.6 185.5,586.5 187.0,586.5 188.5,586.5 190.0,586.5 191.5,586.5 193.0,586.5 194.5,586.6 196.0,586.7 197.5,586.7 199.0,586.8 200.5,586.9 202.0,587.0 203.5,587.1 205.0,587.2 206.5,587.3 208.0,587.3 209.5,587.4 211.0,587.4 212.5,587.4 214.0,587.4 215.5,587.3 217.0,587.1 218.5,586.9 220.0,586.6 221.5,586.3 223.0,585.9 224.5,585.6 226.0,585.2 227.5,584.8 229.0,584.3 230.5,583.9 232.0,583.4 233.5,583.0 235.0,582.5 236.5,581.9 238.0,581.2 239.5,580.3 241.0,579.5 242.5,578.5 244.0,577.5 245.5,576.4 247.0,575.2 248.5,574.0 250.0,572.8 251.0,572.0" stroke="#8a8f96" stroke-opacity="0.25" stroke-width="0.7" fill="none"/>
<polyline points="172.0,588.0 173.5,588.0 175.0,587.9 176.5,587.9 178.0,587.9 179.5,587.8 181.0,587.9 182.5,587.9 184.0,588.0 185.5,588.0 187.0,588.1 188.5,588.2 190.0,588.3 191.5,588.3 193.0,588.4 194.5,588.5 196.0,588.7 197.5,588.8 199.0,588.9 200.5,589.0 202.0,589.2 203.5,589.3 205.0,589.4 206.5,589.5 208.0,589.6 209.5,589.7 211.0,589.7 212.5,589.7 214.0,589.7 215.5,589.6 217.0,589.4 218.5,589.2 220.0,588.9 221.5,588.5 223.0,588.1 224.5,587.7 226.0,587.2 227.5,586.7 229.0,586.2 230.5,585.7 232.0,585.1 233.5,584.6 235.0,584.0 236.5,583.3 238.0,582.5 239.5,581.5 241.0,580.5 242.5,579.4 244.0,578.2 245.5,577.0 247.0,575.7 248.5,574.3 250.0,572.9 251.0,572.0" stroke="#8a8f96" stroke-opacity="0.25" stroke-width="0.7" fill="none"/>
<polyline points="222.0,551.0 223.5,551.0 225.0,551.1 226.5,551.1 228.0,551.1 229.5,551.1 231.0,551.1 232.5,551.1 234.0,551.1 235.5,551.1 237.0,551.1 238.5,551.0 240.0,551.0 241.5,551.0 243.0,551.0 244.5,550.9 246.0,550.9 247.5,550.8 249.0,550.6 250.5,550.4 252.0,550.1 253.5,549.7 255.0,549.3 256.5,548.9 258.0,548.4 259.5,548.0 261.0,547.5 262.5,547.0 264.0,546.6 265.5,546.1 267.0,545.7 268.5,545.2 270.0,544.6 271.5,543.9 273.0,543.2 274.5,542.5 276.0,541.8 277.5,541.2 279.0,540.5 280.5,540.0 282.0,539.5 283.5,539.1 285.0,538.9 286.5,538.8 288.0,538.8 289.5,538.9 291.0,539.0 292.5,539.1 294.0,539.2 295.5,539.4 297.0,539.6 298.5,539.8 300.0,540.0 301.5,540.2 303.0,540.5 304.5,540.7 306.0,541.0 307.5,541.3 309.0,541.6 310.5,542.0 312.0,542.6 313.5,543.4 315.0,544.5 316.5,545.9 318.0,547.4 319.5,549.0 321.0,550.8 322.5,552.7 324.0,554.6 325.5,556.6 327.0,558.5 328.5,560.4 330.0,562.2 331.5,564.0 333.0,565.8 334.5,567.6 336.0,569.4 337.5,571.4 339.0,573.4 340.5,575.5 342.0,577.8 343.5,580.2 345.0,582.8 346.5,585.7 348.0,589.1 349.5,592.8 350.0,594.0" stroke="#8a8f96" stroke-opacity="0.25" stroke-width="0.7" fill="none"/>
<polyline points="222.0,551.0 223.5,551.1 225.0,551.1 226.5,551.2 228.0,551.3 229.5,551.3 231.0,551.4 232.5,551.4 234.0,551.5 235.5,551.5 237.0,551.6 238.5,551.6 240.0,551.6 241.5,551.7 243.0,551.8 244.5,551.8 246.0,551.9 247.5,551.9 249.0,551.8 250.5,551.6 252.0,551.4 253.5,551.1 255.0,550.8 256.5,550.4 258.0,550.1 259.5,549.7 261.0,549.3 262.5,548.9 264.0,548.5 265.5,548.1 267.0,547.7 268.5,547.3 270.0,546.8 271.5,546.2 273.0,545.7 274.5,545.1 276.0,544.5 277.5,543.9 279.0,543.4 280.5,542.9 282.0,542.5 283.5,542.2 285.0,542.0 286.5,542.0 288.0,542.0 289.5,542.1 291.0,542.2 292.5,542.4 294.0,542.5 295.5,542.7 297.0,542.9 298.5,543.1 300.0,543.3 301.5,543.6 303.0,543.9 304.5,544.1 306.0,544.4 307.5,544.7 309.0,545.0 310.5,545.3 312.0,545.9 313.5,546.7 315.0,547.8 316.5,549.0 318.0,550.4 319.5,552.0 321.0,553.7 322.5,555.4 324.0,557.2 325.5,559.1 327.0,560.9 328.5,562.7 330.0,564.4 331.5,566.1 333.0,567.7 334.5,569.4 336.0,571.2 337.5,573.0 339.0,574.9 340.5,576.8 342.0,578.9 343.5,581.2 345.0,583.6 346.5,586.3 348.0,589.5 349.5,592.9 350.0,594.0" stroke="#8a8f96" stroke-opacity="0.25" stroke-width="0.7" fill="none"/>
<polyline points="222.0,551.0 223.5,551.1 225.0,551.2 226.5,551.3 228.0,551.4 229.5,551.5 231.0,551.7 232.5,551.8 234.0,551.9 235.5,552.0 237.0,552.1 238.5,552.2 240.0,552.3 241.5,552.4 243.0,552.6 244.5,552.7 246.0,552.9 247.5,552.9 249.0,552.9 250.5,552.9 252.0,552.7 253.5,552.5 255.0,552.3 256.5,552.0 258.0,551.7 259.5,551.4 261.0,551.0 262.5,550.7 264.0,550.4 265.5,550.1 267.0,549.8 268.5,549.4 270.0,549.0 271.5,548.6 273.0,548.1 274.5,547.6 276.0,547.1 277.5,546.6 279.0,546.2 280.5,545.8 282.0,545.5 283.5,545.3 285.0,545.2 286.5,545.1 288.0,545.2 289.5,545.4 291.0,545.5 292.5,545.7 294.0,545.8 295.5,546.0 297.0,546.3 298.5,546.5 300.0,546.7 301.5,547.0 303.0,547.2 304.5,547.5 306.0,547.8 307.5,548.1 309.0,548.4 310.5,548.7 312.0,549.2 313.5,550.0 315.0,551.0 316.5,552.2 318.0,553.5 319.5,555.0 321.0,556.5 322.5,558.2 324.0,559.9 325.5,561.6 327.0,563.3 328.5,565.0 330.0,566.6 331.5,568.1 333.0,569.7 334.5,571.3 336.0,572.9 337.5,574.6 339.0,576.3 340.5,578.1 342.0,580.1 343.5,582.1 345.0,584.3 346.5,586.9 348.0,589.8 349.5,592.9 350.0,594.0" stroke="#ffffff" stroke-opacity="0.4" stroke-width="1.0" fill="none"/>
<polyline points="222.0,551.0 223.5,551.1 225.0,551.3 226.5,551.4 228.0,551.6 229.5,551.8 231.0,551.9 232.5,552.1 234.0,552.3 235.5,552.4 237.0,552.6 238.5,552.8 240.0,552.9 241.5,553.1 243.0,553.4 244.5,553.6 246.0,553.8 247.5,554.0 249.0,554.1 250.5,554.1 252.0,554.0 253.5,553.9 255.0,553.7 256.5,553.5 258.0,553.3 259.5,553.1 261.0,552.8 262.5,552.5 264.0,552.3 265.5,552.1 267.0,551.9 268.5,551.6 270.0,551.3 271.5,550.9 273.0,550.5 274.5,550.1 276.0,549.7 277.5,549.4 279.0,549.0 280.5,548.7 282.0,548.5 283.5,548.4 285.0,548.3 286.5,548.3 288.0,548.4 289.5,548.6 291.0,548.8 292.5,548.9 294.0,549.1 295.5,549.4 297.0,549.6 298.5,549.8 300.0,550.1 301.5,550.4 303.0,550.6 304.5,550.9 306.0,551.2 307.5,551.5 309.0,551.8 310.5,552.1 312.0,552.5 313.5,553.3 315.0,554.2 316.5,555.3 318.0,556.5 319.5,557.9 321.0,559.4 322.5,560.9 324.0,562.5 325.5,564.1 327.0,565.7 328.5,567.3 330.0,568.8 331.5,570.2 333.0,571.7 334.5,573.1 336.0,574.6 337.5,576.2 339.0,577.8 340.5,579.4 342.0,581.2 343.5,583.1 345.0,585.1 346.5,587.4 348.0,590.1 349.5,593.0 350.0,594.0" stroke="#8a8f96" stroke-opacity="0.25" stroke-width="0.7" fill="none"/>
<polyline points="222.0,551.0 223.5,551.2 225.0,551.4 226.5,551.6 228.0,551.8 229.5,552.0 231.0,552.2 232.5,552.4 234.0,552.7 235.5,552.9 237.0,553.1 238.5,553.4 240.0,553.6 241.5,553.9 243.0,554.2 244.5,554.5 246.0,554.8 247.5,555.1 249.0,555.3 250.5,555.4 252.0,555.4 253.5,555.3 255.0,555.2 256.5,555.1 258.0,554.9 259.5,554.7 261.0,554.6 262.5,554.4 264.0,554.2 265.5,554.0 267.0,553.9 268.5,553.7 270.0,553.5 271.5,553.2 273.0,552.9 274.5,552.7 276.0,552.4 277.5,552.1 279.0,551.9 280.5,551.7 282.0,551.5 283.5,551.4 285.0,551.4 286.5,551.5 288.0,551.7 289.5,551.8 291.0,552.0 292.5,552.2 294.0,552.5 295.5,552.7 297.0,552.9 298.5,553.2 300.0,553.5 301.5,553.7 303.0,554.0 304.5,554.3 306.0,554.6 307.5,554.9 309.0,555.1 310.5,555.4 312.0,555.9 313.5,556.5 315.0,557.4 316.5,558.4 318.0,559.6 319.5,560.9 321.0,562.3 322.5,563.7 324.0,565.2 325.5,566.7 327.0,568.1 328.5,569.6 330.0,571.0 331.5,572.3 333.0,573.7 334.5,575.0 336.0,576.4 337.5,577.8 339.0,579.2 340.5,580.7 342.0,582.4 343.5,584.1 345.0,585.9 346.5,588.0 348.0,590.5 349.5,593.1 350.0,594.0" stroke="#8a8f96" stroke-opacity="0.25" stroke-width="0.7" fill="none"/>
<polyline points="222.0,551.0 223.5,551.2 225.0,551.5 226.5,551.7 228.0,551.9 229.5,552.2 231.0,552.5 232.5,552.8 234.0,553.0 235.5,553.3 237.0,553.6 238.5,553.9 240.0,554.2 241.5,554.6 243.0,555.0 244.5,555.4 246.0,555.8 247.5,556.2 249.0,556.4 250.5,556.6 252.0,556.7 253.5,556.7 255.0,556.7 256.5,556.6 258.0,556.5 259.5,556.4 261.0,556.3 262.5,556.2 264.0,556.1 265.5,556.0 267.0,556.0 268.5,555.9 270.0,555.7 271.5,555.6 273.0,555.4 274.5,555.2 276.0,555.0 277.5,554.9 279.0,554.7 280.5,554.6 282.0,554.5 283.5,554.5 285.0,554.6 286.5,554.7 288.0,554.9 289.5,555.1 291.0,555.3 292.5,555.5 294.0,555.8 295.5,556.0 297.0,556.3 298.5,556.6 300.0,556.8 301.5,557.1 303.0,557.4 304.5,557.7 306.0,558.0 307.5,558.2 309.0,558.5 310.5,558.8 312.0,559.2 313.5,559.8 315.0,560.6 316.5,561.6 318.0,562.7 319.5,563.8 321.0,565.1 322.5,566.4 324.0,567.8 325.5,569.2 327.0,570.5 328.5,571.9 330.0,573.2 331.5,574.4 333.0,575.6 334.5,576.9 336.0,578.1 337.5,579.4 339.0,580.7 340.5,582.0 342.0,583.5 343.5,585.0 345.0,586.7 346.5,588.6 348.0,590.8 349.5,593.2 350.0,594.0" stroke="#ffffff" stroke-opacity="0.4" stroke-width="1.0" fill="none"/>
<polyline points="222.0,551.0 223.5,551.3 225.0,551.5 226.5,551.8 228.0,552.1 229.5,552.4 231.0,552.8 232.5,553.1 234.0,553.4 235.5,553.8 237.0,554.1 238.5,554.5 240.0,554.9 241.5,555.3 243.0,555.8 244.5,556.3 246.0,556.8 247.5,557.2 249.0,557.6 250.5,557.9 252.0,558.0 253.5,558.1 255.0,558.2 256.5,558.2 258.0,558.2 259.5,558.1 261.0,558.1 262.5,558.0 264.0,558.0 265.5,558.0 267.0,558.0 268.5,558.0 270.0,558.0 271.5,557.9 273.0,557.8 274.5,557.7 276.0,557.7 277.5,557.6 279.0,557.5 280.5,557.5 282.0,557.5 283.5,557.6 285.0,557.7 286.5,557.9 288.0,558.1 289.5,558.3 291.0,558.6 292.5,558.8 294.0,559.1 295.5,559.4 297.0,559.6 298.5,559.9 300.0,560.2 301.5,560.5 303.0,560.8 304.5,561.1 306.0,561.3 307.5,561.6 309.0,561.9 310.5,562.1 312.0,562.5 313.5,563.1 315.0,563.8 316.5,564.7 318.0,565.7 319.5,566.8 321.0,568.0 322.5,569.2 324.0,570.4 325.5,571.7 327.0,573.0 328.5,574.2 330.0,575.4 331.5,576.5 333.0,577.6 334.5,578.7 336.0,579.8 337.5,581.0 339.0,582.1 340.5,583.4 342.0,584.6 343.5,586.0 345.0,587.5 346.5,589.2 348.0,591.1 349.5,593.3 350.0,594.0" stroke="#8a8f96" stroke-opacity="0.25" stroke-width="0.7" fill="none"/>
<polyline points="222.0,551.0 223.5,551.3 225.0,551.6 226.5,551.9 228.0,552.3 229.5,552.7 231.0,553.0 232.5,553.4 234.0,553.8 235.5,554.2 237.0,554.7 238.5,555.1 240.0,555.5 241.5,556.0 243.0,556.6 244.5,557.2 246.0,557.8 247.5,558.3 249.0,558.8 250.5,559.1 252.0,559.4 253.5,559.5 255.0,559.7 256.5,559.7 258.0,559.8 259.5,559.8 261.0,559.8 262.5,559.9 264.0,559.9 265.5,560.0 267.0,560.1 268.5,560.1 270.0,560.2 271.5,560.2 273.0,560.2 274.5,560.3 276.0,560.3 277.5,560.3 279.0,560.4 280.5,560.4 282.0,560.5 283.5,560.7 285.0,560.8 286.5,561.0 288.0,561.3 289.5,561.5 291.0,561.8 292.5,562.1 294.0,562.4 295.5,562.7 297.0,563.0 298.5,563.3 300.0,563.6 301.5,563.9 303.0,564.2 304.5,564.5 306.0,564.7 307.5,565.0 309.0,565.2 310.5,565.5 312.0,565.8 313.5,566.4 315.0,567.1 316.5,567.9 318.0,568.8 319.5,569.8 321.0,570.8 322.5,571.9 324.0,573.1 325.5,574.2 327.0,575.4 328.5,576.5 330.0,577.6 331.5,578.6 333.0,579.6 334.5,580.6 336.0,581.5 337.5,582.6 339.0,583.6 340.5,584.7 342.0,585.8 343.5,587.0 345.0,588.2 346.5,589.7 348.0,591.5 349.5,593.4 350.0,594.0" stroke="#8a8f96" stroke-opacity="0.25" stroke-width="0.7" fill="none"/>
<polyline points="222.0,551.0 223.5,551.3 225.0,551.7 226.5,552.1 228.0,552.5 229.5,552.9 231.0,553.3 232.5,553.8 234.0,554.2 235.5,554.7 237.0,555.2 238.5,555.7 240.0,556.2 241.5,556.7 243.0,557.4 244.5,558.1 246.0,558.7 247.5,559.4 249.0,559.9 250.5,560.4 252.0,560.7 253.5,560.9 255.0,561.1 256.5,561.3 258.0,561.4 259.5,561.5 261.0,561.6 262.5,561.7 264.0,561.8 265.5,561.9 267.0,562.1 268.5,562.3 270.0,562.4 271.5,562.5 273.0,562.7 274.5,562.8 276.0,562.9 277.5,563.1 279.0,563.2 280.5,563.4 282.0,563.5 283.5,563.7 285.0,564.0 286.5,564.2 288.0,564.5 289.5,564.8 291.0,565.1 292.5,565.4 294.0,565.7 295.5,566.0 297.0,566.3 298.5,566.7 300.0,567.0 301.5,567.3 303.0,567.6 304.5,567.9 306.0,568.1 307.5,568.4 309.0,568.6 310.5,568.8 312.0,569.2 313.5,569.7 315.0,570.3 316.5,571.0 318.0,571.8 319.5,572.7 321.0,573.7 322.5,574.7 324.0,575.7 325.5,576.7 327.0,577.8 328.5,578.8 330.0,579.8 331.5,580.7 333.0,581.6 334.5,582.4 336.0,583.3 337.5,584.1 339.0,585.0 340.5,586.0 342.0,586.9 343.5,587.9 345.0,589.0 346.5,590.3 348.0,591.8 349.5,593.4 350.0,594.0" stroke="#ffffff" stroke-opacity="0.4" stroke-width="1.0" fill="none"/>
<polyline points="222.0,551.0 223.5,551.4 225.0,551.8 226.5,552.2 228.0,552.6 229.5,553.1 231.0,553.6 232.5,554.1 234.0,554.6 235.5,555.1 237.0,555.7 238.5,556.3 240.0,556.8 241.5,557.5 243.0,558.2 244.5,558.9 246.0,559.7 247.5,560.5 249.0,561.1 250.5,561.6 252.0,562.0 253.5,562.3 255.0,562.6 256.5,562.8 258.0,563.0 259.5,563.2 261.0,563.3 262.5,563.5 264.0,563.7 265.5,563.9 267.0,564.2 268.5,564.4 270.0,564.6 271.5,564.9 273.0,565.1 274.5,565.3 276.0,565.6 277.5,565.8 279.0,566.0 280.5,566.3 282.0,566.5 283.5,566.8 285.0,567.1 286.5,567.4 288.0,567.7 289.5,568.0 291.0,568.3 292.5,568.7 294.0,569.0 295.5,569.4 297.0,569.7 298.5,570.0 300.0,570.3 301.5,570.7 303.0,571.0 304.5,571.2 306.0,571.5 307.5,571.8 309.0,572.0 310.5,572.2 312.0,572.5 313.5,572.9 315.0,573.5 316.5,574.1 318.0,574.9 319.5,575.7 321.0,576.5 322.5,577.4 324.0,578.3 325.5,579.3 327.0,580.2 328.5,581.1 330.0,581.9 331.5,582.8 333.0,583.5 334.5,584.3 336.0,585.0 337.5,585.7 339.0,586.5 340.5,587.3 342.0,588.1 343.5,588.9 345.0,589.8 346.5,590.9 348.0,592.2 349.5,593.5 350.0,594.0" stroke="#8a8f96" stroke-opacity="0.25" stroke-width="0.7" fill="none"/>
<polyline points="222.0,551.0 223.5,551.4 225.0,551.8 226.5,552.3 228.0,552.8 229.5,553.3 231.0,553.9 232.5,554.4 234.0,555.0 235.5,555.6 237.0,556.2 238.5,556.8 240.0,557.5 241.5,558.2 243.0,559.0 244.5,559.8 246.0,560.7 247.5,561.5 249.0,562.3 250.5,562.9 252.0,563.4 253.5,563.7 255.0,564.1 256.5,564.4 258.0,564.6 259.5,564.9 261.0,565.1 262.5,565.3 264.0,565.6 265.5,565.9 267.0,566.2 268.5,566.5 270.0,566.9 271.5,567.2 273.0,567.5 274.5,567.9 276.0,568.2 277.5,568.5 279.0,568.9 280.5,569.2 282.0,569.6 283.5,569.9 285.0,570.2 286.5,570.6 288.0,570.9 289.5,571.3 291.0,571.6 292.5,572.0 294.0,572.3 295.5,572.7 297.0,573.0 298.5,573.4 300.0,573.7 301.5,574.0 303.0,574.3 304.5,574.6 306.0,574.9 307.5,575.1 309.0,575.3 310.5,575.5 312.0,575.8 313.5,576.2 315.0,576.7 316.5,577.3 318.0,577.9 319.5,578.6 321.0,579.4 322.5,580.2 324.0,581.0 325.5,581.8 327.0,582.6 328.5,583.4 330.0,584.1 331.5,584.8 333.0,585.5 334.5,586.1 336.0,586.7 337.5,587.3 339.0,587.9 340.5,588.6 342.0,589.2 343.5,589.9 345.0,590.6 346.5,591.5 348.0,592.5 349.5,593.6 350.0,594.0" stroke="#8a8f96" stroke-opacity="0.25" stroke-width="0.7" fill="none"/>
<polyline points="222.0,551.0 223.5,551.4 225.0,551.9 226.5,552.4 228.0,553.0 229.5,553.5 231.0,554.1 232.5,554.8 234.0,555.4 235.5,556.0 237.0,556.7 238.5,557.4 240.0,558.1 241.5,558.9 243.0,559.8 244.5,560.7 246.0,561.7 247.5,562.6 249.0,563.4 250.5,564.1 252.0,564.7 253.5,565.2 255.0,565.6 256.5,565.9 258.0,566.3 259.5,566.6 261.0,566.9 262.5,567.2 264.0,567.5 265.5,567.9 267.0,568.3 268.5,568.7 270.0,569.1 271.5,569.5 273.0,570.0 274.5,570.4 276.0,570.8 277.5,571.3 279.0,571.7 280.5,572.1 282.0,572.6 283.5,573.0 285.0,573.4 286.5,573.7 288.0,574.1 289.5,574.5 291.0,574.9 292.5,575.3 294.0,575.6 295.5,576.0 297.0,576.4 298.5,576.8 300.0,577.1 301.5,577.4 303.0,577.7 304.5,578.0 306.0,578.3 307.5,578.5 309.0,578.7 310.5,578.9 312.0,579.1 313.5,579.5 315.0,579.9 316.5,580.4 318.0,581.0 319.5,581.6 321.0,582.2 322.5,582.9 324.0,583.6 325.5,584.3 327.0,585.0 328.5,585.7 330.0,586.3 331.5,586.9 333.0,587.5 334.5,588.0 336.0,588.5 337.5,588.9 339.0,589.4 340.5,589.9 342.0,590.3 343.5,590.8 345.0,591.4 346.5,592.0 348.0,592.8 349.5,593.7 350.0,594.0" stroke="#ffffff" stroke-opacity="0.4" stroke-width="1.0" fill="none"/>
<polyline points="222.0,551.0 223.5,551.5 225.0,552.0 226.5,552.6 228.0,553.1 229.5,553.8 231.0,554.4 232.5,555.1 234.0,555.8 235.5,556.5 237.0,557.2 238.5,558.0 240.0,558.8 241.5,559.6 243.0,560.6 244.5,561.6 246.0,562.7 247.5,563.7 249.0,564.6 250.5,565.4 252.0,566.0 253.5,566.6 255.0,567.0 256.5,567.5 258.0,567.9 259.5,568.2 261.0,568.6 262.5,569.0 264.0,569.4 265.5,569.8 267.0,570.3 268.5,570.8 270.0,571.3 271.5,571.9 273.0,572.4 274.5,572.9 276.0,573.5 277.5,574.0 279.0,574.5 280.5,575.1 282.0,575.6 283.5,576.0 285.0,576.5 286.5,576.9 288.0,577.3 289.5,577.7 291.0,578.1 292.5,578.5 294.0,579.0 295.5,579.4 297.0,579.7 298.5,580.1 300.0,580.5 301.5,580.8 303.0,581.1 304.5,581.4 306.0,581.7 307.5,581.9 309.0,582.1 310.5,582.2 312.0,582.5 313.5,582.8 315.0,583.1 316.5,583.6 318.0,584.0 319.5,584.6 321.0,585.1 322.5,585.7 324.0,586.3 325.5,586.8 327.0,587.4 328.5,588.0 330.0,588.5 331.5,589.0 333.0,589.5 334.5,589.8 336.0,590.2 337.5,590.5 339.0,590.8 340.5,591.2 342.0,591.5 343.5,591.8 345.0,592.2 346.5,592.6 348.0,593.2 349.5,593.8 350.0,594.0" stroke="#8a8f96" stroke-opacity="0.25" stroke-width="0.7" fill="none"/>
<polyline points="222.0,551.0 223.5,551.5 225.0,552.1 226.5,552.7 228.0,553.3 229.5,554.0 231.0,554.7 232.5,555.4 234.0,556.2 235.5,557.0 237.0,557.8 238.5,558.6 240.0,559.4 241.5,560.3 243.0,561.4 244.5,562.5 246.0,563.7 247.5,564.8 249.0,565.8 250.5,566.6 252.0,567.3 253.5,568.0 255.0,568.5 256.5,569.0 258.0,569.5 259.5,569.9 261.0,570.4 262.5,570.8 264.0,571.3 265.5,571.8 267.0,572.4 268.5,573.0 270.0,573.6 271.5,574.2 273.0,574.8 274.5,575.5 276.0,576.1 277.5,576.8 279.0,577.4 280.5,578.0 282.0,578.6 283.5,579.1 285.0,579.6 286.5,580.1 288.0,580.5 289.5,581.0 291.0,581.4 292.5,581.8 294.0,582.3 295.5,582.7 297.0,583.1 298.5,583.5 300.0,583.8 301.5,584.2 303.0,584.5 304.5,584.8 306.0,585.1 307.5,585.3 309.0,585.5 310.5,585.6 312.0,585.8 313.5,586.0 315.0,586.3 316.5,586.7 318.0,587.1 319.5,587.5 321.0,588.0 322.5,588.4 324.0,588.9 325.5,589.4 327.0,589.8 328.5,590.3 330.0,590.7 331.5,591.1 333.0,591.4 334.5,591.7 336.0,591.9 337.5,592.1 339.0,592.3 340.5,592.5 342.0,592.6 343.5,592.8 345.0,592.9 346.5,593.2 348.0,593.5 349.5,593.9 350.0,594.0" stroke="#8a8f96" stroke-opacity="0.25" stroke-width="0.7" fill="none"/>
<polyline points="222.0,551.0 223.5,551.6 225.0,552.2 226.5,552.8 228.0,553.5 229.5,554.2 231.0,555.0 232.5,555.7 234.0,556.6 235.5,557.4 237.0,558.3 238.5,559.2 240.0,560.1 241.5,561.1 243.0,562.2 244.5,563.4 246.0,564.6 247.5,565.8 249.0,566.9 250.5,567.9 252.0,568.7 253.5,569.4 255.0,570.0 256.5,570.6 258.0,571.1 259.5,571.6 261.0,572.1 262.5,572.7 264.0,573.2 265.5,573.8 267.0,574.4 268.5,575.1 270.0,575.8 271.5,576.5 273.0,577.3 274.5,578.0 276.0,578.8 277.5,579.5 279.0,580.2 280.5,580.9 282.0,581.6 283.5,582.2 285.0,582.8 286.5,583.3 288.0,583.7 289.5,584.2 291.0,584.7 292.5,585.1 294.0,585.6 295.5,586.0 297.0,586.4 298.5,586.8 300.0,587.2 301.5,587.6 303.0,587.9 304.5,588.2 306.0,588.4 307.5,588.7 309.0,588.8 310.5,589.0 312.0,589.1 313.5,589.3 315.0,589.6 316.5,589.8 318.0,590.1 319.5,590.5 321.0,590.8 322.5,591.2 324.0,591.5 325.5,591.9 327.0,592.3 328.5,592.6 330.0,592.9 331.5,593.2 333.0,593.4 334.5,593.6 336.0,593.7 337.5,593.7 339.0,593.7 340.5,593.8 342.0,593.7 343.5,593.7 345.0,593.7 346.5,593.7 348.0,593.8 349.5,594.0 350.0,594.0" stroke="#ffffff" stroke-opacity="0.4" stroke-width="1.0" fill="none"/>
<polyline points="222.0,551.0 223.5,551.6 225.0,552.2 226.5,552.9 228.0,553.7 229.5,554.4 231.0,555.2 232.5,556.1 234.0,557.0 235.5,557.9 237.0,558.8 238.5,559.7 240.0,560.7 241.5,561.8 243.0,563.0 244.5,564.3 246.0,565.6 247.5,566.9 249.0,568.1 250.5,569.1 252.0,570.0 253.5,570.8 255.0,571.5 256.5,572.1 258.0,572.7 259.5,573.3 261.0,573.9 262.5,574.5 264.0,575.1 265.5,575.8 267.0,576.5 268.5,577.2 270.0,578.0 271.5,578.9 273.0,579.7 274.5,580.6 276.0,581.4 277.5,582.2 279.0,583.1 280.5,583.8 282.0,584.6 283.5,585.3 285.0,585.9 286.5,586.5 288.0,587.0 289.5,587.4 291.0,587.9 292.5,588.4 294.0,588.9 295.5,589.3 297.0,589.8 298.5,590.2 300.0,590.6 301.5,591.0 303.0,591.3 304.5,591.6 306.0,591.8 307.5,592.0 309.0,592.2 310.5,592.3 312.0,592.4 313.5,592.6 315.0,592.8 316.5,593.0 318.0,593.2 319.5,593.4 321.0,593.7 322.5,593.9 324.0,594.2 325.5,594.4 327.0,594.7 328.5,594.9 330.0,595.1 331.5,595.3 333.0,595.4 334.5,595.4 336.0,595.4 337.5,595.3 339.0,595.2 340.5,595.1 342.0,594.9 343.5,594.7 345.0,594.5 346.5,594.3 348.0,594.2 349.5,594.0 350.0,594.0" stroke="#8a8f96" stroke-opacity="0.25" stroke-width="0.7" fill="none"/>
<polyline points="222.0,551.0 223.5,551.6 225.0,552.3 226.5,553.0 228.0,553.8 229.5,554.6 231.0,555.5 232.5,556.4 234.0,557.3 235.5,558.3 237.0,559.3 238.5,560.3 240.0,561.4 241.5,562.5 243.0,563.8 244.5,565.2 246.0,566.6 247.5,568.0 249.0,569.3 250.5,570.4 252.0,571.3 253.5,572.2 255.0,572.9 256.5,573.7 258.0,574.3 259.5,575.0 261.0,575.7 262.5,576.3 264.0,577.0 265.5,577.7 267.0,578.5 268.5,579.4 270.0,580.3 271.5,581.2 273.0,582.1 274.5,583.1 276.0,584.0 277.5,585.0 279.0,585.9 280.5,586.8 282.0,587.6 283.5,588.3 285.0,589.0 286.5,589.6 288.0,590.2 289.5,590.7 291.0,591.2 292.5,591.7 294.0,592.2 295.5,592.7 297.0,593.1 298.5,593.6 300.0,594.0 301.5,594.3 303.0,594.7 304.5,595.0 306.0,595.2 307.5,595.4 309.0,595.6 310.5,595.7 312.0,595.8 313.5,595.9 315.0,596.0 316.5,596.1 318.0,596.3 319.5,596.4 321.0,596.5 322.5,596.7 324.0,596.8 325.5,596.9 327.0,597.1 328.5,597.2 330.0,597.3 331.5,597.4 333.0,597.4 334.5,597.3 336.0,597.1 337.5,596.9 339.0,596.7 340.5,596.4 342.0,596.0 343.5,595.7 345.0,595.3 346.5,594.9 348.0,594.5 349.5,594.1 350.0,594.0" stroke="#8a8f96" stroke-opacity="0.25" stroke-width="0.7" fill="none"/>
<polyline points="322.0,599.0 323.5,597.5 325.0,596.0 326.5,594.5 328.0,593.0 329.5,591.4 331.0,589.9 332.5,588.4 334.0,586.8 335.5,585.3 337.0,583.7 338.5,582.2 340.0,580.6 341.5,578.9 343.0,577.3 344.5,575.6 346.0,573.9 347.5,572.2 349.0,570.5 350.5,568.9 352.0,567.3 353.5,565.7 355.0,564.2 356.5,562.8 358.0,561.5 359.5,560.2 361.0,558.9 362.5,557.6 364.0,556.2 365.5,554.9 367.0,553.6 368.5,552.4 370.0,551.2 371.5,550.1 373.0,549.2 374.5,548.3 376.0,547.6 377.5,547.0 379.0,546.5 380.5,546.2 382.0,545.9 383.5,545.5 385.0,545.2 386.5,545.0 388.0,544.7 389.5,544.5 391.0,544.2 392.5,544.0 394.0,543.9 395.5,543.7 397.0,543.6 398.5,543.5 400.0,543.4 401.5,543.5 403.0,543.6 404.5,543.7 406.0,543.9 407.5,544.2 409.0,544.5 410.5,544.9 412.0,545.3 413.5,545.8 415.0,546.3 416.5,546.8 417.0,547.0" stroke="#8a8f96" stroke-opacity="0.25" stroke-width="0.7" fill="none"/>
<polyline points="322.0,599.0 323.5,597.6 325.0,596.1 326.5,594.7 328.0,593.2 329.5,591.8 331.0,590.3 332.5,588.8 334.0,587.4 335.5,585.9 337.0,584.4 338.5,582.9 340.0,581.4 341.5,579.8 343.0,578.2 344.5,576.6 346.0,574.9 347.5,573.3 349.0,571.7 350.5,570.1 352.0,568.6 353.5,567.1 355.0,565.7 356.5,564.3 358.0,563.0 359.5,561.7 361.0,560.4 362.5,559.1 364.0,557.8 365.5,556.5 367.0,555.2 368.5,554.0 370.0,552.8 371.5,551.7 373.0,550.8 374.5,549.9 376.0,549.1 377.5,548.5 379.0,548.1 380.5,547.7 382.0,547.3 383.5,547.0 385.0,546.6 386.5,546.3 388.0,546.0 389.5,545.7 391.0,545.5 392.5,545.2 394.0,545.0 395.5,544.8 397.0,544.6 398.5,544.5 400.0,544.4 401.5,544.3 403.0,544.3 404.5,544.4 406.0,544.5 407.5,544.7 409.0,545.0 410.5,545.3 412.0,545.6 413.5,546.0 415.0,546.4 416.5,546.8 417.0,547.0" stroke="#8a8f96" stroke-opacity="0.25" stroke-width="0.7" fill="none"/>
<polyline points="322.0,599.0 323.5,597.6 325.0,596.3 326.5,594.9 328.0,593.5 329.5,592.1 331.0,590.7 332.5,589.3 334.0,587.9 335.5,586.5 337.0,585.1 338.5,583.6 340.0,582.2 341.5,580.7 343.0,579.1 344.5,577.6 346.0,576.0 347.5,574.5 349.0,572.9 350.5,571.4 352.0,569.9 353.5,568.5 355.0,567.1 356.5,565.8 358.0,564.5 359.5,563.3 361.0,562.0 362.5,560.7 364.0,559.4 365.5,558.1 367.0,556.8 368.5,555.6 370.0,554.4 371.5,553.4 373.0,552.4 374.5,551.5 376.0,550.7 377.5,550.1 379.0,549.6 380.5,549.2 382.0,548.8 383.5,548.4 385.0,548.0 386.5,547.7 388.0,547.4 389.5,547.0 391.0,546.7 392.5,546.5 394.0,546.2 395.5,545.9 397.0,545.7 398.5,545.5 400.0,545.3 401.5,545.2 403.0,545.1 404.5,545.1 406.0,545.2 407.5,545.3 409.0,545.4 410.5,545.6 412.0,545.9 413.5,546.2 415.0,546.5 416.5,546.9 417.0,547.0" stroke="#ffffff" stroke-opacity="0.4" stroke-width="1.0" fill="none"/>
<polyline points="322.0,599.0 323.5,597.7 325.0,596.4 326.5,595.1 328.0,593.8 329.5,592.4 331.0,591.1 332.5,589.8 334.0,588.4 335.5,587.1 337.0,585.7 338.5,584.4 340.0,582.9 341.5,581.5 343.0,580.0 344.5,578.6 346.0,577.1 347.5,575.6 349.0,574.1 350.5,572.7 352.0,571.2 353.5,569.8 355.0,568.5 356.5,567.2 358.0,566.0 359.5,564.8 361.0,563.5 362.5,562.3 364.0,561.0 365.5,559.7 367.0,558.4 368.5,557.2 370.0,556.1 371.5,555.0 373.0,554.0 374.5,553.1 376.0,552.3 377.5,551.6 379.0,551.1 380.5,550.7 382.0,550.3 383.5,549.8 385.0,549.4 386.5,549.1 388.0,548.7 389.5,548.3 391.0,548.0 392.5,547.7 394.0,547.4 395.5,547.1 397.0,546.8 398.5,546.5 400.0,546.2 401.5,546.0 403.0,545.9 404.5,545.8 406.0,545.8 407.5,545.8 409.0,545.9 410.5,546.0 412.0,546.2 413.5,546.4 415.0,546.6 416.5,546.9 417.0,547.0" stroke="#8a8f96" stroke-opacity="0.25" stroke-width="0.7" fill="none"/>
<polyline points="322.0,599.0 323.5,597.8 325.0,596.5 326.5,595.3 328.0,594.0 329.5,592.8 331.0,591.5 332.5,590.2 334.0,589.0 335.5,587.7 337.0,586.4 338.5,585.1 340.0,583.7 341.5,582.4 343.0,581.0 344.5,579.6 346.0,578.1 347.5,576.7 349.0,575.3 350.5,573.9 352.0,572.5 353.5,571.2 355.0,569.9 356.5,568.7 358.0,567.5 359.5,566.3 361.0,565.1 362.5,563.8 364.0,562.6 365.5,561.3 367.0,560.0 368.5,558.8 370.0,557.7 371.5,556.6 373.0,555.6 374.5,554.7 376.0,553.9 377.5,553.2 379.0,552.6 380.5,552.2 382.0,551.7 383.5,551.3 385.0,550.8 386.5,550.4 388.0,550.0 389.5,549.6 391.0,549.3 392.5,548.9 394.0,548.5 395.5,548.2 397.0,547.8 398.5,547.5 400.0,547.2 401.5,546.9 403.0,546.7 404.5,546.5 406.0,546.4 407.5,546.4 409.0,546.4 410.5,546.4 412.0,546.5 413.5,546.6 415.0,546.8 416.5,546.9 417.0,547.0" stroke="#8a8f96" stroke-opacity="0.25" stroke-width="0.7" fill="none"/>
<polyline points="322.0,599.0 323.5,597.8 325.0,596.7 326.5,595.5 328.0,594.3 329.5,593.1 331.0,591.9 332.5,590.7 334.0,589.5 335.5,588.3 337.0,587.0 338.5,585.8 340.0,584.5 341.5,583.2 343.0,581.9 344.5,580.6 346.0,579.2 347.5,577.9 349.0,576.5 350.5,575.2 352.0,573.9 353.5,572.6 355.0,571.3 356.5,570.1 358.0,569.0 359.5,567.8 361.0,566.6 362.5,565.4 364.0,564.2 365.5,562.9 367.0,561.7 368.5,560.4 370.0,559.3 371.5,558.2 373.0,557.2 374.5,556.2 376.0,555.4 377.5,554.7 379.0,554.2 380.5,553.7 382.0,553.2 383.5,552.7 385.0,552.3 386.5,551.8 388.0,551.4 389.5,550.9 391.0,550.5 392.5,550.1 394.0,549.7 395.5,549.3 397.0,548.9 398.5,548.5 400.0,548.1 401.5,547.8 403.0,547.5 404.5,547.2 406.0,547.0 407.5,546.9 409.0,546.8 410.5,546.8 412.0,546.8 413.5,546.8 415.0,546.9 416.5,547.0 417.0,547.0" stroke="#ffffff" stroke-opacity="0.4" stroke-width="1.0" fill="none"/>
<polyline points="322.0,599.0 323.5,597.9 325.0,596.8 326.5,595.7 328.0,594.6 329.5,593.4 331.0,592.3 332.5,591.2 334.0,590.0 335.5,588.9 337.0,587.7 338.5,586.5 340.0,585.3 341.5,584.1 343.0,582.8 344.5,581.6 346.0,580.3 347.5,579.0 349.0,577.7 350.5,576.4 352.0,575.2 353.5,574.0 355.0,572.8 356.5,571.6 358.0,570.5 359.5,569.4 361.0,568.2 362.5,567.0 364.0,565.7 365.5,564.5 367.0,563.3 368.5,562.0 370.0,560.9 371.5,559.8 373.0,558.8 374.5,557.8 376.0,557.0 377.5,556.3 379.0,555.7 380.5,555.2 382.0,554.7 383.5,554.1 385.0,553.7 386.5,553.2 388.0,552.7 389.5,552.2 391.0,551.8 392.5,551.3 394.0,550.9 395.5,550.4 397.0,549.9 398.5,549.5 400.0,549.0 401.5,548.6 403.0,548.2 404.5,547.9 406.0,547.6 407.5,547.4 409.0,547.3 410.5,547.1 412.0,547.1 413.5,547.0 415.0,547.0 416.5,547.0 417.0,547.0" stroke="#8a8f96" stroke-opacity="0.25" stroke-width="0.7" fill="none"/>
<polyline points="322.0,599.0 323.5,598.0 325.0,596.9 326.5,595.9 328.0,594.8 329.5,593.8 331.0,592.7 332.5,591.6 334.0,590.6 335.5,589.5 337.0,588.4 338.5,587.2 340.0,586.1 341.5,584.9 343.0,583.8 344.5,582.5 346.0,581.3 347.5,580.1 349.0,578.9 350.5,577.7 352.0,576.5 353.5,575.3 355.0,574.2 356.5,573.1 358.0,572.0 359.5,570.9 361.0,569.8 362.5,568.6 364.0,567.3 365.5,566.1 367.0,564.9 368.5,563.7 370.0,562.5 371.5,561.4 373.0,560.4 374.5,559.4 376.0,558.6 377.5,557.9 379.0,557.2 380.5,556.7 382.0,556.1 383.5,555.6 385.0,555.1 386.5,554.5 388.0,554.0 389.5,553.5 391.0,553.0 392.5,552.5 394.0,552.0 395.5,551.5 397.0,551.0 398.5,550.5 400.0,550.0 401.5,549.5 403.0,549.0 404.5,548.6 406.0,548.3 407.5,548.0 409.0,547.7 410.5,547.5 412.0,547.3 413.5,547.2 415.0,547.1 416.5,547.0 417.0,547.0" stroke="#8a8f96" stroke-opacity="0.25" stroke-width="0.7" fill="none"/>
<polyline points="322.0,599.0 323.5,598.0 325.0,597.1 326.5,596.1 328.0,595.1 329.5,594.1 331.0,593.1 332.5,592.1 334.0,591.1 335.5,590.1 337.0,589.0 338.5,588.0 340.0,586.9 341.5,585.8 343.0,584.7 344.5,583.5 346.0,582.4 347.5,581.3 349.0,580.1 350.5,579.0 352.0,577.8 353.5,576.7 355.0,575.6 356.5,574.5 358.0,573.5 359.5,572.4 361.0,571.3 362.5,570.1 364.0,568.9 365.5,567.7 367.0,566.5 368.5,565.3 370.0,564.1 371.5,563.0 373.0,562.0 374.5,561.0 376.0,560.2 377.5,559.4 379.0,558.8 380.5,558.2 382.0,557.6 383.5,557.0 385.0,556.5 386.5,555.9 388.0,555.4 389.5,554.8 391.0,554.3 392.5,553.7 394.0,553.2 395.5,552.6 397.0,552.1 398.5,551.5 400.0,550.9 401.5,550.3 403.0,549.8 404.5,549.3 406.0,548.9 407.5,548.5 409.0,548.2 410.5,547.9 412.0,547.6 413.5,547.4 415.0,547.2 416.5,547.1 417.0,547.0" stroke="#ffffff" stroke-opacity="0.4" stroke-width="1.0" fill="none"/>
<polyline points="322.0,599.0 323.5,598.1 325.0,597.2 326.5,596.3 328.0,595.4 329.5,594.5 331.0,593.5 332.5,592.6 334.0,591.6 335.5,590.6 337.0,589.7 338.5,588.7 340.0,587.7 341.5,586.7 343.0,585.6 344.5,584.5 346.0,583.5 347.5,582.4 349.0,581.3 350.5,580.2 352.0,579.2 353.5,578.1 355.0,577.0 356.5,576.0 358.0,575.0 359.5,574.0 361.0,572.9 362.5,571.7 364.0,570.5 365.5,569.3 367.0,568.1 368.5,566.9 370.0,565.7 371.5,564.6 373.0,563.6 374.5,562.6 376.0,561.7 377.5,561.0 379.0,560.3 380.5,559.7 382.0,559.1 383.5,558.5 385.0,557.9 386.5,557.3 388.0,556.7 389.5,556.1 391.0,555.5 392.5,554.9 394.0,554.3 395.5,553.7 397.0,553.1 398.5,552.5 400.0,551.8 401.5,551.2 403.0,550.6 404.5,550.0 406.0,549.5 407.5,549.0 409.0,548.6 410.5,548.3 412.0,547.9 413.5,547.6 415.0,547.3 416.5,547.1 417.0,547.0" stroke="#8a8f96" stroke-opacity="0.25" stroke-width="0.7" fill="none"/>
<polyline points="322.0,599.0 323.5,598.2 325.0,597.3 326.5,596.5 328.0,595.7 329.5,594.8 331.0,593.9 332.5,593.0 334.0,592.1 335.5,591.2 337.0,590.3 338.5,589.4 340.0,588.5 341.5,587.5 343.0,586.5 344.5,585.5 346.0,584.5 347.5,583.5 349.0,582.5 350.5,581.5 352.0,580.5 353.5,579.5 355.0,578.5 356.5,577.5 358.0,576.5 359.5,575.5 361.0,574.4 362.5,573.3 364.0,572.1 365.5,570.9 367.0,569.7 368.5,568.5 370.0,567.3 371.5,566.2 373.0,565.2 374.5,564.2 376.0,563.3 377.5,562.5 379.0,561.8 380.5,561.2 382.0,560.5 383.5,559.9 385.0,559.3 386.5,558.6 388.0,558.0 389.5,557.4 391.0,556.8 392.5,556.2 394.0,555.5 395.5,554.9 397.0,554.2 398.5,553.5 400.0,552.7 401.5,552.0 403.0,551.4 404.5,550.7 406.0,550.1 407.5,549.6 409.0,549.1 410.5,548.6 412.0,548.2 413.5,547.8 415.0,547.5 416.5,547.1 417.0,547.0" stroke="#8a8f96" stroke-opacity="0.25" stroke-width="0.7" fill="none"/>
<polyline points="322.0,599.0 323.5,598.2 325.0,597.5 326.5,596.7 328.0,595.9 329.5,595.1 331.0,594.3 332.5,593.5 334.0,592.7 335.5,591.8 337.0,591.0 338.5,590.1 340.0,589.3 341.5,588.4 343.0,587.5 344.5,586.5 346.0,585.6 347.5,584.7 349.0,583.7 350.5,582.8 352.0,581.8 353.5,580.8 355.0,579.9 356.5,578.9 358.0,578.0 359.5,577.0 361.0,576.0 362.5,574.8 364.0,573.7 365.5,572.5 367.0,571.3 368.5,570.1 370.0,568.9 371.5,567.8 373.0,566.8 374.5,565.8 376.0,564.9 377.5,564.1 379.0,563.3 380.5,562.7 382.0,562.0 383.5,561.3 385.0,560.7 386.5,560.0 388.0,559.4 389.5,558.7 391.0,558.0 392.5,557.4 394.0,556.7 395.5,556.0 397.0,555.2 398.5,554.5 400.0,553.7 401.5,552.9 403.0,552.2 404.5,551.4 406.0,550.8 407.5,550.1 409.0,549.6 410.5,549.0 412.0,548.5 413.5,548.0 415.0,547.6 416.5,547.1 417.0,547.0" stroke="#ffffff" stroke-opacity="0.4" stroke-width="1.0" fill="none"/>
<polyline points="322.0,599.0 323.5,598.3 325.0,597.6 326.5,596.9 328.0,596.2 329.5,595.5 331.0,594.7 332.5,594.0 334.0,593.2 335.5,592.4 337.0,591.7 338.5,590.9 340.0,590.1 341.5,589.2 343.0,588.4 344.5,587.5 346.0,586.7 347.5,585.8 349.0,584.9 350.5,584.0 352.0,583.1 353.5,582.2 355.0,581.3 356.5,580.4 358.0,579.5 359.5,578.5 361.0,577.5 362.5,576.4 364.0,575.3 365.5,574.1 367.0,572.9 368.5,571.7 370.0,570.5 371.5,569.4 373.0,568.4 374.5,567.4 376.0,566.5 377.5,565.6 379.0,564.9 380.5,564.2 382.0,563.4 383.5,562.8 385.0,562.1 386.5,561.4 388.0,560.7 389.5,560.0 391.0,559.3 392.5,558.6 394.0,557.8 395.5,557.1 397.0,556.3 398.5,555.5 400.0,554.6 401.5,553.8 403.0,552.9 404.5,552.1 406.0,551.4 407.5,550.7 409.0,550.0 410.5,549.4 412.0,548.8 413.5,548.2 415.0,547.7 416.5,547.2 417.0,547.0" stroke="#8a8f96" stroke-opacity="0.25" stroke-width="0.7" fill="none"/>
<polyline points="322.0,599.0 323.5,598.4 325.0,597.8 326.5,597.1 328.0,596.5 329.5,595.8 331.0,595.1 332.5,594.4 334.0,593.7 335.5,593.0 337.0,592.3 338.5,591.6 340.0,590.8 341.5,590.1 343.0,589.3 344.5,588.5 346.0,587.7 347.5,586.9 349.0,586.1 350.5,585.3 352.0,584.4 353.5,583.6 355.0,582.7 356.5,581.9 358.0,581.0 359.5,580.1 361.0,579.1 362.5,578.0 364.0,576.8 365.5,575.7 367.0,574.5 368.5,573.3 370.0,572.2 371.5,571.0 373.0,570.0 374.5,569.0 376.0,568.1 377.5,567.2 379.0,566.4 380.5,565.7 382.0,564.9 383.5,564.2 385.0,563.5 386.5,562.7 388.0,562.0 389.5,561.3 391.0,560.6 392.5,559.8 394.0,559.0 395.5,558.2 397.0,557.3 398.5,556.4 400.0,555.5 401.5,554.6 403.0,553.7 404.5,552.8 406.0,552.0 407.5,551.2 409.0,550.5 410.5,549.8 412.0,549.1 413.5,548.4 415.0,547.8 416.5,547.2 417.0,547.0" stroke="#8a8f96" stroke-opacity="0.25" stroke-width="0.7" fill="none"/>
<polyline points="322.0,599.0 323.5,598.5 325.0,597.9 326.5,597.3 328.0,596.7 329.5,596.1 331.0,595.5 332.5,594.9 334.0,594.3 335.5,593.6 337.0,593.0 338.5,592.3 340.0,591.6 341.5,590.9 343.0,590.2 344.5,589.5 346.0,588.8 347.5,588.1 349.0,587.3 350.5,586.5 352.0,585.8 353.5,585.0 355.0,584.2 356.5,583.3 358.0,582.5 359.5,581.6 361.0,580.6 362.5,579.6 364.0,578.4 365.5,577.3 367.0,576.1 368.5,574.9 370.0,573.8 371.5,572.6 373.0,571.6 374.5,570.6 376.0,569.6 377.5,568.8 379.0,567.9 380.5,567.2 382.0,566.4 383.5,565.6 385.0,564.9 386.5,564.1 388.0,563.4 389.5,562.6 391.0,561.8 392.5,561.0 394.0,560.2 395.5,559.3 397.0,558.4 398.5,557.4 400.0,556.5 401.5,555.5 403.0,554.5 404.5,553.5 406.0,552.6 407.5,551.7 409.0,550.9 410.5,550.1 412.0,549.4 413.5,548.6 415.0,547.9 416.5,547.2 417.0,547.0" stroke="#ffffff" stroke-opacity="0.4" stroke-width="1.0" fill="none"/>
<polyline points="322.0,599.0 323.5,598.5 325.0,598.0 326.5,597.5 328.0,597.0 329.5,596.5 331.0,595.9 332.5,595.4 334.0,594.8 335.5,594.2 337.0,593.6 338.5,593.0 340.0,592.4 341.5,591.8 343.0,591.2 344.5,590.5 346.0,589.9 347.5,589.2 349.0,588.5 350.5,587.8 352.0,587.1 353.5,586.3 355.0,585.6 356.5,584.8 358.0,584.0 359.5,583.1 361.0,582.2 362.5,581.1 364.0,580.0 365.5,578.9 367.0,577.7 368.5,576.5 370.0,575.4 371.5,574.2 373.0,573.2 374.5,572.1 376.0,571.2 377.5,570.3 379.0,569.5 380.5,568.6 382.0,567.8 383.5,567.1 385.0,566.3 386.5,565.5 388.0,564.7 389.5,563.9 391.0,563.1 392.5,562.2 394.0,561.3 395.5,560.4 397.0,559.5 398.5,558.4 400.0,557.4 401.5,556.3 403.0,555.3 404.5,554.2 406.0,553.2 407.5,552.3 409.0,551.4 410.5,550.5 412.0,549.7 413.5,548.8 415.0,548.0 416.5,547.3 417.0,547.0" stroke="#8a8f96" stroke-opacity="0.25" stroke-width="0.7" fill="none"/>
<polyline points="322.0,599.0 323.5,598.6 325.0,598.2 326.5,597.7 328.0,597.3 329.5,596.8 331.0,596.3 332.5,595.8 334.0,595.3 335.5,594.8 337.0,594.3 338.5,593.8 340.0,593.2 341.5,592.7 343.0,592.1 344.5,591.5 346.0,590.9 347.5,590.3 349.0,589.7 350.5,589.1 352.0,588.4 353.5,587.7 355.0,587.0 356.5,586.3 358.0,585.5 359.5,584.7 361.0,583.7 362.5,582.7 364.0,581.6 365.5,580.5 367.0,579.3 368.5,578.2 370.0,577.0 371.5,575.9 373.0,574.8 374.5,573.7 376.0,572.8 377.5,571.9 379.0,571.0 380.5,570.1 382.0,569.3 383.5,568.5 385.0,567.7 386.5,566.9 388.0,566.0 389.5,565.2 391.0,564.3 392.5,563.4 394.0,562.5 395.5,561.5 397.0,560.5 398.5,559.4 400.0,558.3 401.5,557.2 403.0,556.1 404.5,554.9 406.0,553.9 407.5,552.8 409.0,551.8 410.5,550.9 412.0,549.9 413.5,549.0 415.0,548.2 416.5,547.3 417.0,547.0" stroke="#8a8f96" stroke-opacity="0.25" stroke-width="0.7" fill="none"/>
<polyline points="52.0,535.0 53.5,535.9 55.0,536.7 56.5,537.6 58.0,538.4 59.5,539.2 61.0,539.9 62.5,540.6 64.0,541.3 65.5,542.0 67.0,542.6 68.5,543.2 70.0,543.8 71.5,544.4 73.0,545.1 74.5,545.7 76.0,546.3 77.5,546.8 79.0,547.3 80.5,547.6 82.0,547.9 83.5,548.0 85.0,548.0 86.5,547.8 88.0,547.6 89.5,547.2 91.0,546.8 92.5,546.3 94.0,545.7 95.5,545.0 97.0,544.3 98.5,543.6 100.0,542.8 101.5,542.1 103.0,541.3 104.5,540.5 106.0,539.7 107.5,539.0 109.0,538.3 110.5,537.6 112.0,537.0 113.5,536.5 115.0,536.0 116.5,535.6 118.0,535.1 119.5,534.7 121.0,534.2 122.5,533.7 124.0,533.3 125.5,532.8 127.0,532.4 128.5,531.9 130.0,531.5 131.5,531.1 133.0,530.8 134.5,530.4 136.0,530.1 137.5,529.8 139.0,529.6 140.5,529.4 142.0,529.2 143.5,529.1 145.0,529.0 146.5,529.0 148.0,529.1 149.5,529.3 151.0,529.6 152.5,530.1 154.0,530.6 155.5,531.1 157.0,531.8 158.5,532.5 160.0,533.2 161.5,534.0 163.0,534.9 164.5,535.7 166.0,536.6 167.5,537.8 169.0,539.3 170.5,540.9 172.0,542.7 173.5,544.7 175.0,546.7 176.5,548.9 178.0,551.1 179.5,553.3 181.0,555.5 182.5,558.0 184.0,560.7 185.5,563.5 187.0,566.5 188.5,569.4 190.0,572.3 191.5,575.1 193.0,577.8 194.5,580.4 196.0,583.1 197.5,585.7 199.0,588.3 200.0,590.0" stroke="#9aa0a7" stroke-opacity="0.45" stroke-width="0.9" fill="none"/>
<polyline points="52.0,535.0 53.5,536.5 55.0,538.1 56.5,539.7 58.0,541.2 59.5,542.8 61.0,544.4 62.5,546.0 64.0,547.6 65.5,549.2 67.0,550.8 68.5,552.4 70.0,554.0 71.5,555.6 73.0,557.3 74.5,558.9 76.0,560.6 77.5,562.2 79.0,563.9 80.5,565.6 82.0,567.3 83.5,569.2 85.0,571.1 86.5,573.0 88.0,575.0 89.5,576.9 91.0,578.8 92.5,580.7 94.0,582.4 95.5,584.0 97.0,585.5 98.5,586.9 100.0,588.0 101.5,589.0 103.0,590.1 104.5,591.1 106.0,592.1 107.5,593.1 109.0,594.1 110.5,595.0 112.0,595.9 113.5,596.7 115.0,597.4 116.5,598.1 118.0,598.7 119.5,599.2 121.0,599.5 122.5,599.8 124.0,600.0 125.5,600.0 127.0,600.0 128.5,599.9 130.0,599.9 131.5,599.8 133.0,599.7 134.5,599.5 136.0,599.4 137.5,599.2 139.0,599.0 140.5,598.8 142.0,598.6 143.5,598.4 145.0,598.2 146.5,598.0 148.0,597.8 149.5,597.5 151.0,597.3 152.5,597.1 154.0,596.8 155.5,596.6 157.0,596.4 158.5,596.2 160.0,596.0 161.5,595.8 163.0,595.6 164.5,595.4 166.0,595.2 167.5,595.0 169.0,594.8 170.5,594.6 172.0,594.4 173.5,594.2 175.0,593.9 176.5,593.7 178.0,593.5 179.5,593.3 181.0,593.0 182.5,592.8 184.0,592.6 185.5,592.4 187.0,592.1 188.5,591.9 190.0,591.6 191.5,591.4 193.0,591.2 194.5,590.9 196.0,590.7 197.5,590.4 199.0,590.2 200.0,590.0" stroke="#9aa0a7" stroke-opacity="0.45" stroke-width="0.9" fill="none"/>
<polyline points="172.0,588.0 173.5,584.1 175.0,580.3 176.5,576.6 178.0,573.3 179.5,570.2 181.0,567.6 182.5,565.6 184.0,564.0 185.5,562.5 187.0,561.1 188.5,559.8 190.0,558.6 191.5,557.4 193.0,556.4 194.5,555.5 196.0,554.7 197.5,554.0 199.0,553.4 200.5,552.9 202.0,552.5 203.5,552.2 205.0,551.9 206.5,551.6 208.0,551.4 209.5,551.2 211.0,550.9 212.5,550.8 214.0,550.6 215.5,550.5 217.0,550.4 218.5,550.4 220.0,550.4 221.5,550.7 223.0,551.1 224.5,551.7 226.0,552.4 227.5,553.3 229.0,554.2 230.5,555.1 232.0,556.1 233.5,557.1 235.0,558.0 236.5,559.0 238.0,560.0 239.5,561.2 241.0,562.4 242.5,563.6 244.0,565.0 245.5,566.4 247.0,567.9 248.5,569.4 250.0,570.9 251.0,572.0" stroke="#9aa0a7" stroke-opacity="0.45" stroke-width="0.9" fill="none"/>
<polyline points="172.0,588.0 173.5,588.2 175.0,588.4 176.5,588.5 178.0,588.7 179.5,588.9 181.0,589.1 182.5,589.2 184.0,589.4 185.5,589.5 187.0,589.7 188.5,589.9 190.0,590.0 191.5,590.2 193.0,590.3 194.5,590.5 196.0,590.7 197.5,590.8 199.0,591.0 200.5,591.2 202.0,591.3 203.5,591.5 205.0,591.6 206.5,591.7 208.0,591.8 209.5,591.9 211.0,592.0 212.5,592.0 214.0,592.0 215.5,591.9 217.0,591.7 218.5,591.4 220.0,591.1 221.5,590.7 223.0,590.3 224.5,589.8 226.0,589.3 227.5,588.7 229.0,588.1 230.5,587.5 232.0,586.9 233.5,586.2 235.0,585.5 236.5,584.7 238.0,583.8 239.5,582.7 241.0,581.6 242.5,580.3 244.0,579.0 245.5,577.6 247.0,576.1 248.5,574.6 250.0,573.1 251.0,572.0" stroke="#9aa0a7" stroke-opacity="0.45" stroke-width="0.9" fill="none"/>
<polyline points="222.0,551.0 223.5,551.0 225.0,551.0 226.5,551.0 228.0,550.9 229.5,550.9 231.0,550.8 232.5,550.8 234.0,550.7 235.5,550.6 237.0,550.5 238.5,550.4 240.0,550.4 241.5,550.3 243.0,550.1 244.5,550.0 246.0,549.9 247.5,549.7 249.0,549.4 250.5,549.1 252.0,548.7 253.5,548.3 255.0,547.8 256.5,547.3 258.0,546.8 259.5,546.3 261.0,545.8 262.5,545.2 264.0,544.7 265.5,544.2 267.0,543.6 268.5,543.0 270.0,542.3 271.5,541.6 273.0,540.8 274.5,540.0 276.0,539.2 277.5,538.4 279.0,537.7 280.5,537.1 282.0,536.5 283.5,536.1 285.0,535.8 286.5,535.6 288.0,535.6 289.5,535.6 291.0,535.7 292.5,535.8 294.0,535.9 295.5,536.0 297.0,536.2 298.5,536.4 300.0,536.6 301.5,536.8 303.0,537.1 304.5,537.3 306.0,537.6 307.5,537.9 309.0,538.3 310.5,538.6 312.0,539.2 313.5,540.2 315.0,541.3 316.5,542.7 318.0,544.3 319.5,546.1 321.0,548.0 322.5,549.9 324.0,552.0 325.5,554.0 327.0,556.1 328.5,558.1 330.0,560.0 331.5,561.9 333.0,563.8 334.5,565.7 336.0,567.7 337.5,569.8 339.0,572.0 340.5,574.2 342.0,576.7 343.5,579.2 345.0,582.0 346.5,585.2 348.0,588.8 349.5,592.7 350.0,594.0" stroke="#9aa0a7" stroke-opacity="0.45" stroke-width="0.9" fill="none"/>
<polyline points="222.0,551.0 223.5,551.7 225.0,552.4 226.5,553.2 228.0,554.0 229.5,554.9 231.0,555.8 232.5,556.7 234.0,557.7 235.5,558.8 237.0,559.8 238.5,560.9 240.0,562.0 241.5,563.2 243.0,564.6 244.5,566.1 246.0,567.6 247.5,569.1 249.0,570.4 250.5,571.6 252.0,572.7 253.5,573.6 255.0,574.4 256.5,575.2 258.0,576.0 259.5,576.7 261.0,577.4 262.5,578.1 264.0,578.9 265.5,579.7 267.0,580.6 268.5,581.5 270.0,582.5 271.5,583.5 273.0,584.6 274.5,585.6 276.0,586.7 277.5,587.7 279.0,588.7 280.5,589.7 282.0,590.6 283.5,591.4 285.0,592.2 286.5,592.8 288.0,593.4 289.5,593.9 291.0,594.5 292.5,595.0 294.0,595.5 295.5,596.0 297.0,596.5 298.5,596.9 300.0,597.3 301.5,597.7 303.0,598.1 304.5,598.4 306.0,598.6 307.5,598.8 309.0,598.9 310.5,599.0 312.0,599.1 313.5,599.1 315.0,599.2 316.5,599.3 318.0,599.3 319.5,599.3 321.0,599.4 322.5,599.4 324.0,599.4 325.5,599.5 327.0,599.5 328.5,599.5 330.0,599.5 331.5,599.5 333.0,599.3 334.5,599.1 336.0,598.8 337.5,598.5 339.0,598.1 340.5,597.7 342.0,597.2 343.5,596.6 345.0,596.1 346.5,595.5 348.0,594.8 349.5,594.2 350.0,594.0" stroke="#9aa0a7" stroke-opacity="0.45" stroke-width="0.9" fill="none"/>
<polyline points="322.0,599.0 323.5,597.4 325.0,595.9 326.5,594.3 328.0,592.7 329.5,591.1 331.0,589.5 332.5,587.9 334.0,586.3 335.5,584.7 337.0,583.1 338.5,581.5 340.0,579.8 341.5,578.1 343.0,576.3 344.5,574.6 346.0,572.8 347.5,571.1 349.0,569.3 350.5,567.6 352.0,565.9 353.5,564.3 355.0,562.8 356.5,561.4 358.0,560.0 359.5,558.7 361.0,557.3 362.5,556.0 364.0,554.6 365.5,553.3 367.0,552.0 368.5,550.8 370.0,549.6 371.5,548.5 373.0,547.6 374.5,546.7 376.0,546.0 377.5,545.4 379.0,545.0 380.5,544.7 382.0,544.4 383.5,544.1 385.0,543.8 386.5,543.6 388.0,543.4 389.5,543.2 391.0,543.0 392.5,542.8 394.0,542.7 395.5,542.6 397.0,542.5 398.5,542.5 400.0,542.5 401.5,542.6 403.0,542.8 404.5,543.0 406.0,543.3 407.5,543.7 409.0,544.1 410.5,544.5 412.0,545.0 413.5,545.6 415.0,546.2 416.5,546.8 417.0,547.0" stroke="#9aa0a7" stroke-opacity="0.45" stroke-width="0.9" fill="none"/>
<polyline points="322.0,599.0 323.5,598.7 325.0,598.3 326.5,597.9 328.0,597.5 329.5,597.1 331.0,596.7 332.5,596.3 334.0,595.9 335.5,595.4 337.0,595.0 338.5,594.5 340.0,594.0 341.5,593.5 343.0,593.0 344.5,592.5 346.0,592.0 347.5,591.5 349.0,590.9 350.5,590.3 352.0,589.7 353.5,589.1 355.0,588.4 356.5,587.7 358.0,587.0 359.5,586.2 361.0,585.3 362.5,584.3 364.0,583.2 365.5,582.1 367.0,580.9 368.5,579.8 370.0,578.6 371.5,577.5 373.0,576.4 374.5,575.3 376.0,574.4 377.5,573.4 379.0,572.5 380.5,571.6 382.0,570.8 383.5,569.9 385.0,569.1 386.5,568.2 388.0,567.4 389.5,566.5 391.0,565.6 392.5,564.6 394.0,563.7 395.5,562.7 397.0,561.6 398.5,560.4 400.0,559.3 401.5,558.1 403.0,556.8 404.5,555.6 406.0,554.5 407.5,553.4 409.0,552.3 410.5,551.3 412.0,550.2 413.5,549.2 415.0,548.3 416.5,547.3 417.0,547.0" stroke="#9aa0a7" stroke-opacity="0.45" stroke-width="0.9" fill="none"/>
</g>
<g id="burst">
<polygon points="46.4,526.0 32.8,502.9 31.3,502.8 30.8,504.3" fill="#4a4a4a" fill-opacity="0.8"/>
<line x1="46.4" y1="526.0" x2="31.8" y2="503.6" stroke="#fff" stroke-width="1.4" stroke-dasharray="0.8 1.6 1.2 2.2" stroke-opacity="0.7"/>
<polygon points="48.1,531.0 35.7,516.3 34.1,516.4 33.9,517.9" fill="#4a4a4a" fill-opacity="0.8"/>
<line x1="48.1" y1="531.0" x2="34.8" y2="517.1" stroke="#fff" stroke-width="1.4" stroke-dasharray="0.8 1.6 1.2 2.2" stroke-opacity="0.7"/>
<polygon points="51.9,528.7 50.2,501.0 48.9,500.1 47.8,501.2" fill="#4a4a4a" fill-opacity="0.8"/>
<line x1="51.9" y1="528.7" x2="49.0" y2="501.1" stroke="#fff" stroke-width="1.4" stroke-dasharray="0.8 1.6 1.2 2.2" stroke-opacity="0.7"/>
<polygon points="53.8,529.3 60.0,504.4 59.0,503.2 57.6,504.0" fill="#4a4a4a" fill-opacity="0.8"/>
<line x1="53.8" y1="529.3" x2="58.8" y2="504.2" stroke="#fff" stroke-width="1.4" stroke-dasharray="0.8 1.6 1.2 2.2" stroke-opacity="0.7"/>
<polygon points="53.9,531.5 62.4,508.9 61.6,507.5 60.2,508.1" fill="#4a4a4a" fill-opacity="0.8"/>
<line x1="53.9" y1="531.5" x2="61.3" y2="508.5" stroke="#fff" stroke-width="1.4" stroke-dasharray="0.8 1.6 1.2 2.2" stroke-opacity="0.7"/>
<polygon points="56.9,528.8 75.2,502.4 74.7,501.0 73.2,501.2" fill="#4a4a4a" fill-opacity="0.8"/>
<line x1="56.9" y1="528.8" x2="74.2" y2="501.8" stroke="#fff" stroke-width="1.4" stroke-dasharray="0.8 1.6 1.2 2.2" stroke-opacity="0.7"/>
<polygon points="58.5,530.1 82.9,508.8 82.8,507.2 81.3,507.0" fill="#4a4a4a" fill-opacity="0.8"/>
<line x1="58.5" y1="530.1" x2="82.1" y2="507.9" stroke="#fff" stroke-width="1.4" stroke-dasharray="0.8 1.6 1.2 2.2" stroke-opacity="0.7"/>
<polygon points="60.7,532.0 93.7,518.8 94.1,517.3 92.7,516.6" fill="#4a4a4a" fill-opacity="0.8"/>
<line x1="60.7" y1="532.0" x2="93.2" y2="517.7" stroke="#fff" stroke-width="1.4" stroke-dasharray="0.8 1.6 1.2 2.2" stroke-opacity="0.7"/>
<polygon points="58.2,535.6 90.1,536.8 91.1,535.6 90.1,534.4" fill="#4a4a4a" fill-opacity="0.8"/>
<line x1="58.2" y1="535.6" x2="90.1" y2="535.6" stroke="#fff" stroke-width="1.4" stroke-dasharray="0.8 1.6 1.2 2.2" stroke-opacity="0.7"/>
<polygon points="57.6,536.9 77.5,543.5 78.8,542.6 78.1,541.1" fill="#4a4a4a" fill-opacity="0.8"/>
<line x1="57.6" y1="536.9" x2="77.8" y2="542.3" stroke="#fff" stroke-width="1.4" stroke-dasharray="0.8 1.6 1.2 2.2" stroke-opacity="0.7"/>
<polygon points="53.9,541.5 55.8,555.5 57.2,556.2 58.2,554.9" fill="#4a4a4a" fill-opacity="0.8"/>
<line x1="53.9" y1="541.5" x2="57.0" y2="555.2" stroke="#fff" stroke-width="1.4" stroke-dasharray="0.8 1.6 1.2 2.2" stroke-opacity="0.7"/>
<polygon points="58.4,540.3 80.7,559.8 82.3,559.5 82.3,558.0" fill="#4a4a4a" fill-opacity="0.8"/>
<line x1="58.4" y1="540.3" x2="81.5" y2="558.9" stroke="#fff" stroke-width="1.4" stroke-dasharray="0.8 1.6 1.2 2.2" stroke-opacity="0.7"/>
<polygon points="57.2,541.0 74.5,563.4 76.0,563.4 76.3,561.8" fill="#4a4a4a" fill-opacity="0.8"/>
<line x1="57.2" y1="541.0" x2="75.4" y2="562.6" stroke="#fff" stroke-width="1.4" stroke-dasharray="0.8 1.6 1.2 2.2" stroke-opacity="0.7"/>
<polygon points="55.7,538.1 67.2,548.9 68.8,548.6 68.8,547.1" fill="#4a4a4a" fill-opacity="0.8"/>
<line x1="55.7" y1="538.1" x2="68.0" y2="548.0" stroke="#fff" stroke-width="1.4" stroke-dasharray="0.8 1.6 1.2 2.2" stroke-opacity="0.7"/>
<polygon points="56.0,542.9 62.9,560.5 64.4,560.9 65.1,559.5" fill="#4a4a4a" fill-opacity="0.8"/>
<line x1="56.0" y1="542.9" x2="64.0" y2="560.0" stroke="#fff" stroke-width="1.4" stroke-dasharray="0.8 1.6 1.2 2.2" stroke-opacity="0.7"/>
</g>
<!-- purple dotted -->
<line x1="395.6" y1="119" x2="395.6" y2="252" stroke="#7030a0" stroke-width="3" stroke-dasharray="3 3"/>
<polygon points="395.5,103 389.5,115 401.5,115" fill="#7030a0"/>
<line x1="423" y1="268" x2="535" y2="189" stroke="#7030a0" stroke-width="3" stroke-dasharray="3 3"/>
<polygon points="545.2,181.8 532.3,184.1 539.2,192.9" fill="#7030a0"/>
<!-- blue lines -->
<g stroke="#4f8ac8" stroke-width="2.6" fill="none">
<line x1="52.3" y1="535.3" x2="345" y2="535.3"/>
<line x1="52.6" y1="535.4" x2="365" y2="312.2"/>
<line x1="395.6" y1="323" x2="395.6" y2="352"/>
<line x1="395.6" y1="389" x2="395.6" y2="431"/>
<line x1="395.6" y1="468" x2="395.6" y2="515.5"/>
</g>
<polygon points="184.8,535.4 170.5,527.6 170.5,543.4" fill="#4f8ac8"/>
<polygon points="167.3,454.6 151,456.9 160.3,468.6" fill="#4f8ac8"/>
<!-- Ego -->
<g filter="url(#blur1)">
<path d="M 363.1 273.9 L 356.9 275.4 Q 360.0 264.1 363.1 257.3 Q 364.5 266.3 363.1 273.9 Z" fill="#707070" fill-opacity="0.35"/>
<path d="M 374.3 260.6 L 368.2 258.8 Q 376.0 250.8 381.8 246.8 Q 378.9 254.9 374.3 260.6 Z" fill="#707070" fill-opacity="0.35"/>
<path d="M 410.4 259.0 L 409.2 253.1 Q 418.4 256.1 423.4 258.4 Q 416.2 260.0 410.4 259.0 Z" fill="#707070" fill-opacity="0.35"/>
<path d="M 427.1 291.0 L 432.4 287.5 Q 433.4 298.6 432.8 305.6 Q 428.5 298.2 427.1 291.0 Z" fill="#707070" fill-opacity="0.35"/>
<path d="M 412.9 315.6 L 418.7 317.0 Q 411.7 324.4 407.1 328.2 Q 409.1 320.7 412.9 315.6 Z" fill="#707070" fill-opacity="0.35"/>
<path d="M 390.7 321.6 L 394.2 326.9 Q 383.6 328.0 377.1 327.4 Q 384.0 323.0 390.7 321.6 Z" fill="#707070" fill-opacity="0.35"/>
</g>
<circle cx="393.6" cy="288.1" r="35.6" fill="url(#ego)"/>
<circle cx="393.6" cy="288.1" r="35.6" fill="url(#egorim)"/>
<g clip-path="url(#egoclip)" filter="url(#blur1)" fill="none" stroke-linecap="round">
<path d="M 403.0 291.5 L 403.3 292.4 L 403.6 293.3 L 403.8 294.3 L 403.9 295.4 L 403.8 296.4 L 403.7 297.5 L 403.5 298.6 L 403.2 299.8 L 402.8 300.9 L 402.2 302.0 L 401.6 303.2 L 400.8 304.2 L 400.0 305.3 L 399.0 306.3 L 397.9 307.2 L 396.7 308.1 L 395.4 308.9 L 394.1 309.6 L 392.6 310.3 L 391.1 310.8 L 389.4 311.2 L 387.8 311.5 L 386.0 311.7 L 384.2 311.7 L 382.4 311.6 L 380.5 311.4 L 378.7 311.0 L 376.8 310.4 L 374.9 309.8 L 373.1 308.9 L 371.3 307.9 L 369.5 306.8 L 367.8 305.5 L 366.1 304.1 L 364.5 302.5 L 363.0 300.8 L 361.7 298.9 L 360.4 296.9 L 359.2 294.8" stroke="#d8b8a0" stroke-opacity="0.6" stroke-width="3.4"/>
<path d="M 395.3 297.9 L 394.7 298.7 L 394.1 299.4 L 393.3 300.0 L 392.4 300.6 L 391.5 301.1 L 390.5 301.6 L 389.4 302.0 L 388.3 302.3 L 387.1 302.5 L 385.8 302.6 L 384.6 302.6 L 383.2 302.4 L 381.9 302.2 L 380.5 301.9 L 379.2 301.4 L 377.8 300.8 L 376.5 300.1 L 375.2 299.3 L 373.9 298.3 L 372.7 297.2 L 371.5 296.0 L 370.4 294.7 L 369.4 293.3 L 368.5 291.8 L 367.7 290.1 L 366.9 288.4 L 366.3 286.6 L 365.9 284.7 L 365.5 282.8 L 365.3 280.7 L 365.3 278.7 L 365.4 276.6 L 365.6 274.4 L 366.0 272.3 L 366.6 270.1 L 367.4 268.0 L 368.3 265.8 L 369.4 263.7 L 370.6 261.7" stroke="#a89080" stroke-opacity="0.55" stroke-width="2.8"/>
<path d="M 385.9 294.5 L 385.0 294.4 L 384.1 294.1 L 383.1 293.8 L 382.2 293.4 L 381.3 292.8 L 380.4 292.2 L 379.5 291.4 L 378.7 290.6 L 377.9 289.6 L 377.2 288.6 L 376.6 287.5 L 376.0 286.3 L 375.5 285.0 L 375.1 283.7 L 374.9 282.3 L 374.7 280.8 L 374.7 279.3 L 374.7 277.7 L 374.9 276.2 L 375.2 274.6 L 375.7 273.0 L 376.3 271.3 L 377.0 269.8 L 377.9 268.2 L 378.9 266.7 L 380.0 265.2 L 381.3 263.7 L 382.7 262.4 L 384.2 261.1 L 385.8 259.9 L 387.6 258.8 L 389.5 257.9 L 391.5 257.0 L 393.5 256.3 L 395.7 255.7 L 397.9 255.3 L 400.2 255.0 L 402.6 254.9 L 405.0 255.0" stroke="#d8b8a0" stroke-opacity="0.5" stroke-width="3.0"/>
<path d="M 384.2 284.7 L 383.9 283.8 L 383.6 282.9 L 383.4 281.9 L 383.3 280.8 L 383.4 279.8 L 383.5 278.7 L 383.7 277.6 L 384.0 276.4 L 384.4 275.3 L 385.0 274.2 L 385.6 273.0 L 386.4 272.0 L 387.2 270.9 L 388.2 269.9 L 389.3 269.0 L 390.5 268.1 L 391.8 267.3 L 393.1 266.6 L 394.6 265.9 L 396.1 265.4 L 397.8 265.0 L 399.4 264.7 L 401.2 264.5 L 403.0 264.5 L 404.8 264.6 L 406.7 264.8 L 408.5 265.2 L 410.4 265.8 L 412.3 266.4 L 414.1 267.3 L 415.9 268.3 L 417.7 269.4 L 419.4 270.7 L 421.1 272.1 L 422.7 273.7 L 424.2 275.4 L 425.5 277.3 L 426.8 279.3 L 428.0 281.4" stroke="#988070" stroke-opacity="0.55" stroke-width="2.6"/>
<path d="M 391.9 278.3 L 392.5 277.5 L 393.1 276.8 L 393.9 276.2 L 394.8 275.6 L 395.7 275.1 L 396.7 274.6 L 397.8 274.2 L 398.9 273.9 L 400.1 273.7 L 401.4 273.6 L 402.6 273.6 L 404.0 273.8 L 405.3 274.0 L 406.7 274.3 L 408.0 274.8 L 409.4 275.4 L 410.7 276.1 L 412.0 276.9 L 413.3 277.9 L 414.5 279.0 L 415.7 280.2 L 416.8 281.5 L 417.8 282.9 L 418.7 284.4 L 419.5 286.1 L 420.3 287.8 L 420.9 289.6 L 421.3 291.5 L 421.7 293.4 L 421.9 295.5 L 421.9 297.5 L 421.8 299.6 L 421.6 301.8 L 421.2 303.9 L 420.6 306.1 L 419.8 308.2 L 418.9 310.4 L 417.8 312.5 L 416.6 314.5" stroke="#c09078" stroke-opacity="0.45" stroke-width="2.2"/>
<path d="M 401.3 281.7 L 402.2 281.8 L 403.1 282.1 L 404.1 282.4 L 405.0 282.8 L 405.9 283.4 L 406.8 284.0 L 407.7 284.8 L 408.5 285.6 L 409.3 286.6 L 410.0 287.6 L 410.6 288.7 L 411.2 289.9 L 411.7 291.2 L 412.1 292.5 L 412.3 293.9 L 412.5 295.4 L 412.5 296.9 L 412.5 298.5 L 412.3 300.0 L 412.0 301.6 L 411.5 303.2 L 410.9 304.9 L 410.2 306.4 L 409.3 308.0 L 408.3 309.5 L 407.2 311.0 L 405.9 312.5 L 404.5 313.8 L 403.0 315.1 L 401.4 316.3 L 399.6 317.4 L 397.7 318.3 L 395.7 319.2 L 393.7 319.9 L 391.5 320.5 L 389.3 320.9 L 387.0 321.2 L 384.6 321.3 L 382.2 321.2" stroke="#807068" stroke-opacity="0.5" stroke-width="2.0"/>
</g>
<text x="368" y="297.6" fill="#fff" font-size="30.5" textLength="50" lengthAdjust="spacingAndGlyphs" style="font-family:'Liberation Serif', serif">Ego</text>
<!-- labels -->
<g fill="#111">
<g stroke="#111" stroke-width="0.7">
<text transform="translate(335.3,44.3) scale(0.44,1)" font-size="35.5" textLength="269.3" lengthAdjust="spacing" vector-effect="non-scaling-stroke">ATONEMENT</text>
<text transform="translate(294.4,82.7) scale(0.66,1)" font-size="29" textLength="304.5" lengthAdjust="spacing" vector-effect="non-scaling-stroke">self-transcendence</text>
<text transform="translate(533,126.7) scale(0.44,1)" font-size="35" textLength="288.6" lengthAdjust="spacing" vector-effect="non-scaling-stroke">APOTHEOSIS</text>
<text transform="translate(507,165.7) scale(0.66,1)" font-size="29" textLength="271.2" lengthAdjust="spacing" vector-effect="non-scaling-stroke">self-actualization</text>
</g>
<g>
<text x="408.7" y="201.5" font-size="29.5" textLength="73" lengthAdjust="spacingAndGlyphs">Spirit</text>
<text x="359" y="382.3" font-size="30" textLength="72.5" lengthAdjust="spacingAndGlyphs">Mind</text>
<text x="369.5" y="461.5" font-size="30" textLength="51.5" lengthAdjust="spacingAndGlyphs">Life</text>
<text x="345.7" y="541.5" font-size="29" textLength="97.5" lengthAdjust="spacingAndGlyphs">Matter</text>
<text x="346.5" y="620.5" font-size="29" textLength="96.5" lengthAdjust="spacingAndGlyphs">Energy</text>
</g>
<text transform="translate(190.3,528) scale(0.76,1)" font-size="20" textLength="38.8" lengthAdjust="spacingAndGlyphs" stroke="#111" stroke-width="0.5">time</text>
<text x="15.5" y="543" font-size="13" textLength="7.5" lengthAdjust="spacingAndGlyphs">±</text>
<text x="23.2" y="542.6" font-size="10.5" textLength="5.5" lengthAdjust="spacingAndGlyphs">1</text>
<text x="29.3" y="545" font-size="13" textLength="8.2" lengthAdjust="spacingAndGlyphs">4</text>
<text x="38.3" y="542.6" font-size="14" textLength="9.2" lengthAdjust="spacingAndGlyphs">B</text>
<text transform="translate(165.5,446.3) rotate(-35.5) scale(0.6,1)" font-size="19.5" textLength="121.7" lengthAdjust="spacing" stroke="#111" stroke-width="0.4" vector-effect="non-scaling-stroke">complexity</text>
</g>
</svg>
</body></html>
